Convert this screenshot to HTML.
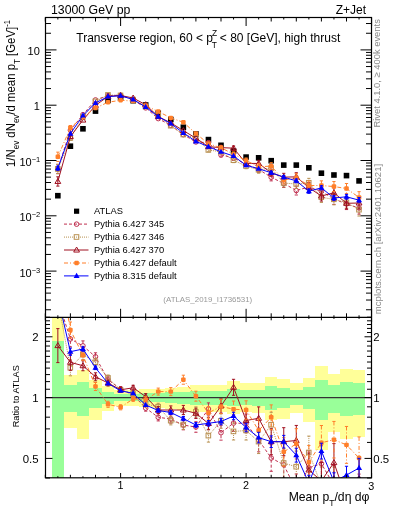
<!DOCTYPE html>
<html><head><meta charset="utf-8"><style>html,body{margin:0;padding:0;background:#fff;}svg{display:block;will-change:transform;}</style></head>
<body><svg width="393" height="512" viewBox="0 0 393 512" font-family="'Liberation Sans', sans-serif">
<rect width="393" height="512" fill="#fff"/>
<clipPath id="cr"><rect x="45.5" y="317.3" width="326.0" height="160.5"/></clipPath>
<clipPath id="cu"><rect x="45.5" y="17.5" width="326.0" height="299.8"/></clipPath>
<g clip-path="url(#cr)" shape-rendering="crispEdges">
<rect x="51.57" y="300" width="12.55" height="200.00" fill="#ffff99"/>
<rect x="51.57" y="341.2" width="12.55" height="158.80" fill="#99ff99"/>
<rect x="64.12" y="375.1761316932639" width="12.55" height="52.62" fill="#ffff99"/>
<rect x="64.12" y="385.3814694720121" width="12.55" height="26.42" fill="#99ff99"/>
<rect x="76.67" y="369.6320706727766" width="12.55" height="69.27" fill="#ffff99"/>
<rect x="76.67" y="382.3981177277017" width="12.55" height="33.60" fill="#99ff99"/>
<rect x="89.22" y="380.0257031561075" width="12.55" height="39.57" fill="#ffff99"/>
<rect x="89.22" y="388.22346356994245" width="12.55" height="19.88" fill="#99ff99"/>
<rect x="101.77" y="385.75329864055203" width="12.55" height="25.55" fill="#ffff99"/>
<rect x="101.77" y="391.8094004919475" width="12.55" height="11.99" fill="#99ff99"/>
<rect x="114.32" y="390.0178454664173" width="12.55" height="15.88" fill="#ffff99"/>
<rect x="114.32" y="393.9577894797551" width="12.55" height="7.44" fill="#99ff99"/>
<rect x="126.88" y="390.0178454664173" width="12.55" height="15.88" fill="#ffff99"/>
<rect x="126.88" y="393.8660232881099" width="12.55" height="7.63" fill="#99ff99"/>
<rect x="139.43" y="389.27388582202946" width="12.55" height="17.53" fill="#ffff99"/>
<rect x="139.43" y="393.3196093453603" width="12.55" height="8.78" fill="#99ff99"/>
<rect x="151.97" y="388.70477855071954" width="12.55" height="18.80" fill="#ffff99"/>
<rect x="151.97" y="392.9592707713187" width="12.55" height="9.54" fill="#99ff99"/>
<rect x="164.52" y="387.5124842680408" width="12.55" height="21.49" fill="#ffff99"/>
<rect x="164.52" y="392.3361218820145" width="12.55" height="10.86" fill="#99ff99"/>
<rect x="177.07" y="386.7376053690593" width="12.55" height="23.26" fill="#ffff99"/>
<rect x="177.07" y="391.63532217523664" width="12.55" height="12.36" fill="#99ff99"/>
<rect x="189.62" y="385.233768080518" width="12.55" height="26.77" fill="#ffff99"/>
<rect x="189.62" y="391.11750872739566" width="12.55" height="13.48" fill="#99ff99"/>
<rect x="202.18" y="385.233768080518" width="12.55" height="26.77" fill="#ffff99"/>
<rect x="202.18" y="391.11750872739566" width="12.55" height="13.48" fill="#99ff99"/>
<rect x="214.72" y="385.233768080518" width="12.55" height="26.77" fill="#ffff99"/>
<rect x="214.72" y="391.11750872739566" width="12.55" height="13.48" fill="#99ff99"/>
<rect x="227.28" y="381.1" width="12.55" height="32.80" fill="#ffff99"/>
<rect x="227.28" y="389.1" width="12.55" height="17.20" fill="#99ff99"/>
<rect x="239.82" y="383" width="12.55" height="29.40" fill="#ffff99"/>
<rect x="239.82" y="390" width="12.55" height="15.30" fill="#99ff99"/>
<rect x="252.37" y="383" width="12.55" height="30.00" fill="#ffff99"/>
<rect x="252.37" y="390" width="12.55" height="16.30" fill="#99ff99"/>
<rect x="264.93" y="376.7" width="12.55" height="43.30" fill="#ffff99"/>
<rect x="264.93" y="386.2" width="12.55" height="23.80" fill="#99ff99"/>
<rect x="277.48" y="379.2" width="12.55" height="40.00" fill="#ffff99"/>
<rect x="277.48" y="387.6" width="12.55" height="20.60" fill="#99ff99"/>
<rect x="290.03" y="383" width="12.55" height="30.00" fill="#ffff99"/>
<rect x="290.03" y="390" width="12.55" height="15.30" fill="#99ff99"/>
<rect x="302.58" y="378.3" width="12.55" height="43.30" fill="#ffff99"/>
<rect x="302.58" y="387.3" width="12.55" height="22.10" fill="#99ff99"/>
<rect x="315.12" y="365.6" width="12.55" height="84.00" fill="#ffff99"/>
<rect x="315.12" y="379.6" width="12.55" height="40.10" fill="#99ff99"/>
<rect x="327.68" y="373.8" width="12.55" height="58.00" fill="#ffff99"/>
<rect x="327.68" y="384.7" width="12.55" height="28.00" fill="#99ff99"/>
<rect x="340.23" y="369.4" width="12.55" height="70.00" fill="#ffff99"/>
<rect x="340.23" y="382.2" width="12.55" height="33.80" fill="#99ff99"/>
<rect x="352.78" y="370.2" width="12.55" height="66.80" fill="#ffff99"/>
<rect x="352.78" y="383" width="12.55" height="32.30" fill="#99ff99"/>
</g>
<line x1="45.5" y1="397.6" x2="371.5" y2="397.6" stroke="#333" stroke-width="1.1"/>
<g clip-path="url(#cu)">
<rect x="55.05" y="192.90" width="5.6" height="5.6" fill="#000"/>
<rect x="67.60" y="143.40" width="5.6" height="5.6" fill="#000"/>
<rect x="80.15" y="126.00" width="5.6" height="5.6" fill="#000"/>
<rect x="92.70" y="108.30" width="5.6" height="5.6" fill="#000"/>
<rect x="105.25" y="97.60" width="5.6" height="5.6" fill="#000"/>
<rect x="117.80" y="94.80" width="5.6" height="5.6" fill="#000"/>
<rect x="130.35" y="97.90" width="5.6" height="5.6" fill="#000"/>
<rect x="142.90" y="102.20" width="5.6" height="5.6" fill="#000"/>
<rect x="155.45" y="110.40" width="5.6" height="5.6" fill="#000"/>
<rect x="168.00" y="116.70" width="5.6" height="5.6" fill="#000"/>
<rect x="180.55" y="124.40" width="5.6" height="5.6" fill="#000"/>
<rect x="193.10" y="131.10" width="5.6" height="5.6" fill="#000"/>
<rect x="205.65" y="136.80" width="5.6" height="5.6" fill="#000"/>
<rect x="218.20" y="142.50" width="5.6" height="5.6" fill="#000"/>
<rect x="230.75" y="148.20" width="5.6" height="5.6" fill="#000"/>
<rect x="243.30" y="154.30" width="5.6" height="5.6" fill="#000"/>
<rect x="255.85" y="155.00" width="5.6" height="5.6" fill="#000"/>
<rect x="268.40" y="157.90" width="5.6" height="5.6" fill="#000"/>
<rect x="280.95" y="162.30" width="5.6" height="5.6" fill="#000"/>
<rect x="293.50" y="162.30" width="5.6" height="5.6" fill="#000"/>
<rect x="306.05" y="165.00" width="5.6" height="5.6" fill="#000"/>
<rect x="318.60" y="170.40" width="5.6" height="5.6" fill="#000"/>
<rect x="331.15" y="172.20" width="5.6" height="5.6" fill="#000"/>
<rect x="343.70" y="172.80" width="5.6" height="5.6" fill="#000"/>
<rect x="356.25" y="178.10" width="5.6" height="5.6" fill="#000"/>
<polyline points="57.85,169.00 70.40,130.13 82.95,114.65 95.50,99.93 108.05,95.53 120.60,95.25 133.15,99.99 145.70,107.87 158.25,118.59 170.80,125.36 183.35,134.73 195.90,141.95 208.45,142.72 221.00,154.91 233.55,157.98 246.10,164.16 258.65,169.41 271.20,177.24 283.75,183.50 296.30,190.50 308.85,187.02 321.40,191.30 333.95,199.00 346.50,204.00 359.05,208.00" fill="none" stroke="#c03050" stroke-width="1.0" stroke-dasharray="3,2"/>
<line x1="57.85" y1="164.35" x2="57.85" y2="173.65" stroke="#c03050" stroke-width="1.0" stroke-dasharray="3,2"/><line x1="56.25" y1="164.35" x2="59.45" y2="164.35" stroke="#c03050" stroke-width="1.0"/><line x1="56.25" y1="173.65" x2="59.45" y2="173.65" stroke="#c03050" stroke-width="1.0"/>
<circle cx="57.85" cy="169.00" r="2.3" fill="#fff" fill-opacity="0" stroke="#c03050" stroke-width="1.0"/>
<line x1="70.40" y1="127.94" x2="70.40" y2="132.32" stroke="#c03050" stroke-width="1.0" stroke-dasharray="3,2"/><line x1="68.80" y1="127.94" x2="72.00" y2="127.94" stroke="#c03050" stroke-width="1.0"/><line x1="68.80" y1="132.32" x2="72.00" y2="132.32" stroke="#c03050" stroke-width="1.0"/>
<circle cx="70.40" cy="130.13" r="2.3" fill="#fff" fill-opacity="0" stroke="#c03050" stroke-width="1.0"/>
<circle cx="82.95" cy="114.65" r="2.3" fill="#fff" fill-opacity="0" stroke="#c03050" stroke-width="1.0"/>
<circle cx="95.50" cy="99.93" r="2.3" fill="#fff" fill-opacity="0" stroke="#c03050" stroke-width="1.0"/>
<circle cx="108.05" cy="95.53" r="2.3" fill="#fff" fill-opacity="0" stroke="#c03050" stroke-width="1.0"/>
<circle cx="120.60" cy="95.25" r="2.3" fill="#fff" fill-opacity="0" stroke="#c03050" stroke-width="1.0"/>
<circle cx="133.15" cy="99.99" r="2.3" fill="#fff" fill-opacity="0" stroke="#c03050" stroke-width="1.0"/>
<circle cx="145.70" cy="107.87" r="2.3" fill="#fff" fill-opacity="0" stroke="#c03050" stroke-width="1.0"/>
<circle cx="158.25" cy="118.59" r="2.3" fill="#fff" fill-opacity="0" stroke="#c03050" stroke-width="1.0"/>
<circle cx="170.80" cy="125.36" r="2.3" fill="#fff" fill-opacity="0" stroke="#c03050" stroke-width="1.0"/>
<circle cx="183.35" cy="134.73" r="2.3" fill="#fff" fill-opacity="0" stroke="#c03050" stroke-width="1.0"/>
<circle cx="195.90" cy="141.95" r="2.3" fill="#fff" fill-opacity="0" stroke="#c03050" stroke-width="1.0"/>
<line x1="208.45" y1="141.05" x2="208.45" y2="144.40" stroke="#c03050" stroke-width="1.0" stroke-dasharray="3,2"/><line x1="206.85" y1="141.05" x2="210.05" y2="141.05" stroke="#c03050" stroke-width="1.0"/><line x1="206.85" y1="144.40" x2="210.05" y2="144.40" stroke="#c03050" stroke-width="1.0"/>
<circle cx="208.45" cy="142.72" r="2.3" fill="#fff" fill-opacity="0" stroke="#c03050" stroke-width="1.0"/>
<line x1="221.00" y1="152.87" x2="221.00" y2="156.94" stroke="#c03050" stroke-width="1.0" stroke-dasharray="3,2"/><line x1="219.40" y1="152.87" x2="222.60" y2="152.87" stroke="#c03050" stroke-width="1.0"/><line x1="219.40" y1="156.94" x2="222.60" y2="156.94" stroke="#c03050" stroke-width="1.0"/>
<circle cx="221.00" cy="154.91" r="2.3" fill="#fff" fill-opacity="0" stroke="#c03050" stroke-width="1.0"/>
<line x1="233.55" y1="155.69" x2="233.55" y2="160.27" stroke="#c03050" stroke-width="1.0" stroke-dasharray="3,2"/><line x1="231.95" y1="155.69" x2="235.15" y2="155.69" stroke="#c03050" stroke-width="1.0"/><line x1="231.95" y1="160.27" x2="235.15" y2="160.27" stroke="#c03050" stroke-width="1.0"/>
<circle cx="233.55" cy="157.98" r="2.3" fill="#fff" fill-opacity="0" stroke="#c03050" stroke-width="1.0"/>
<line x1="246.10" y1="161.59" x2="246.10" y2="166.74" stroke="#c03050" stroke-width="1.0" stroke-dasharray="3,2"/><line x1="244.50" y1="161.59" x2="247.70" y2="161.59" stroke="#c03050" stroke-width="1.0"/><line x1="244.50" y1="166.74" x2="247.70" y2="166.74" stroke="#c03050" stroke-width="1.0"/>
<circle cx="246.10" cy="164.16" r="2.3" fill="#fff" fill-opacity="0" stroke="#c03050" stroke-width="1.0"/>
<line x1="258.65" y1="166.17" x2="258.65" y2="172.65" stroke="#c03050" stroke-width="1.0" stroke-dasharray="3,2"/><line x1="257.05" y1="166.17" x2="260.25" y2="166.17" stroke="#c03050" stroke-width="1.0"/><line x1="257.05" y1="172.65" x2="260.25" y2="172.65" stroke="#c03050" stroke-width="1.0"/>
<circle cx="258.65" cy="169.41" r="2.3" fill="#fff" fill-opacity="0" stroke="#c03050" stroke-width="1.0"/>
<line x1="271.20" y1="173.59" x2="271.20" y2="180.88" stroke="#c03050" stroke-width="1.0" stroke-dasharray="3,2"/><line x1="269.60" y1="173.59" x2="272.80" y2="173.59" stroke="#c03050" stroke-width="1.0"/><line x1="269.60" y1="180.88" x2="272.80" y2="180.88" stroke="#c03050" stroke-width="1.0"/>
<circle cx="271.20" cy="177.24" r="2.3" fill="#fff" fill-opacity="0" stroke="#c03050" stroke-width="1.0"/>
<line x1="283.75" y1="179.51" x2="283.75" y2="187.49" stroke="#c03050" stroke-width="1.0" stroke-dasharray="3,2"/><line x1="282.15" y1="179.51" x2="285.35" y2="179.51" stroke="#c03050" stroke-width="1.0"/><line x1="282.15" y1="187.49" x2="285.35" y2="187.49" stroke="#c03050" stroke-width="1.0"/>
<circle cx="283.75" cy="183.50" r="2.3" fill="#fff" fill-opacity="0" stroke="#c03050" stroke-width="1.0"/>
<line x1="296.30" y1="186.01" x2="296.30" y2="194.99" stroke="#c03050" stroke-width="1.0" stroke-dasharray="3,2"/><line x1="294.70" y1="186.01" x2="297.90" y2="186.01" stroke="#c03050" stroke-width="1.0"/><line x1="294.70" y1="194.99" x2="297.90" y2="194.99" stroke="#c03050" stroke-width="1.0"/>
<circle cx="296.30" cy="190.50" r="2.3" fill="#fff" fill-opacity="0" stroke="#c03050" stroke-width="1.0"/>
<line x1="308.85" y1="182.39" x2="308.85" y2="191.65" stroke="#c03050" stroke-width="1.0" stroke-dasharray="3,2"/><line x1="307.25" y1="182.39" x2="310.45" y2="182.39" stroke="#c03050" stroke-width="1.0"/><line x1="307.25" y1="191.65" x2="310.45" y2="191.65" stroke="#c03050" stroke-width="1.0"/>
<circle cx="308.85" cy="187.02" r="2.3" fill="#fff" fill-opacity="0" stroke="#c03050" stroke-width="1.0"/>
<line x1="321.40" y1="186.39" x2="321.40" y2="196.20" stroke="#c03050" stroke-width="1.0" stroke-dasharray="3,2"/><line x1="319.80" y1="186.39" x2="323.00" y2="186.39" stroke="#c03050" stroke-width="1.0"/><line x1="319.80" y1="196.20" x2="323.00" y2="196.20" stroke="#c03050" stroke-width="1.0"/>
<circle cx="321.40" cy="191.30" r="2.3" fill="#fff" fill-opacity="0" stroke="#c03050" stroke-width="1.0"/>
<line x1="333.95" y1="193.59" x2="333.95" y2="204.41" stroke="#c03050" stroke-width="1.0" stroke-dasharray="3,2"/><line x1="332.35" y1="193.59" x2="335.55" y2="193.59" stroke="#c03050" stroke-width="1.0"/><line x1="332.35" y1="204.41" x2="335.55" y2="204.41" stroke="#c03050" stroke-width="1.0"/>
<circle cx="333.95" cy="199.00" r="2.3" fill="#fff" fill-opacity="0" stroke="#c03050" stroke-width="1.0"/>
<line x1="346.50" y1="198.44" x2="346.50" y2="209.56" stroke="#c03050" stroke-width="1.0" stroke-dasharray="3,2"/><line x1="344.90" y1="198.44" x2="348.10" y2="198.44" stroke="#c03050" stroke-width="1.0"/><line x1="344.90" y1="209.56" x2="348.10" y2="209.56" stroke="#c03050" stroke-width="1.0"/>
<circle cx="346.50" cy="204.00" r="2.3" fill="#fff" fill-opacity="0" stroke="#c03050" stroke-width="1.0"/>
<line x1="359.05" y1="201.84" x2="359.05" y2="214.16" stroke="#c03050" stroke-width="1.0" stroke-dasharray="3,2"/><line x1="357.45" y1="201.84" x2="360.65" y2="201.84" stroke="#c03050" stroke-width="1.0"/><line x1="357.45" y1="214.16" x2="360.65" y2="214.16" stroke="#c03050" stroke-width="1.0"/>
<circle cx="359.05" cy="208.00" r="2.3" fill="#fff" fill-opacity="0" stroke="#c03050" stroke-width="1.0"/>
<polyline points="57.85,169.00 70.40,138.04 82.95,117.00 95.50,101.44 108.05,95.03 120.60,95.52 133.15,99.71 145.70,106.75 158.25,115.72 170.80,125.82 183.35,134.62 195.90,137.84 208.45,150.03 221.00,151.71 233.55,160.28 246.10,166.11 258.65,169.87 271.20,168.15 283.75,183.03 296.30,184.04 308.85,182.86 321.40,197.30 333.95,199.40 346.50,202.50 359.05,209.80" fill="none" stroke="#b89050" stroke-width="1.0" stroke-dasharray="1,1"/>
<line x1="57.85" y1="164.35" x2="57.85" y2="173.65" stroke="#b89050" stroke-width="1.0" stroke-dasharray="1,1"/><line x1="56.25" y1="164.35" x2="59.45" y2="164.35" stroke="#b89050" stroke-width="1.0"/><line x1="56.25" y1="173.65" x2="59.45" y2="173.65" stroke="#b89050" stroke-width="1.0"/>
<rect x="55.45" y="166.60" width="4.6" height="4.6" fill="none" stroke="#b89050" stroke-width="1.0"/>
<line x1="70.40" y1="135.85" x2="70.40" y2="140.23" stroke="#b89050" stroke-width="1.0" stroke-dasharray="1,1"/><line x1="68.80" y1="135.85" x2="72.00" y2="135.85" stroke="#b89050" stroke-width="1.0"/><line x1="68.80" y1="140.23" x2="72.00" y2="140.23" stroke="#b89050" stroke-width="1.0"/>
<rect x="68.00" y="135.64" width="4.6" height="4.6" fill="none" stroke="#b89050" stroke-width="1.0"/>
<rect x="80.55" y="114.60" width="4.6" height="4.6" fill="none" stroke="#b89050" stroke-width="1.0"/>
<rect x="93.10" y="99.04" width="4.6" height="4.6" fill="none" stroke="#b89050" stroke-width="1.0"/>
<rect x="105.65" y="92.63" width="4.6" height="4.6" fill="none" stroke="#b89050" stroke-width="1.0"/>
<rect x="118.20" y="93.12" width="4.6" height="4.6" fill="none" stroke="#b89050" stroke-width="1.0"/>
<rect x="130.75" y="97.31" width="4.6" height="4.6" fill="none" stroke="#b89050" stroke-width="1.0"/>
<rect x="143.30" y="104.35" width="4.6" height="4.6" fill="none" stroke="#b89050" stroke-width="1.0"/>
<rect x="155.85" y="113.32" width="4.6" height="4.6" fill="none" stroke="#b89050" stroke-width="1.0"/>
<rect x="168.40" y="123.42" width="4.6" height="4.6" fill="none" stroke="#b89050" stroke-width="1.0"/>
<rect x="180.95" y="132.22" width="4.6" height="4.6" fill="none" stroke="#b89050" stroke-width="1.0"/>
<rect x="193.50" y="135.44" width="4.6" height="4.6" fill="none" stroke="#b89050" stroke-width="1.0"/>
<line x1="208.45" y1="148.28" x2="208.45" y2="151.78" stroke="#b89050" stroke-width="1.0" stroke-dasharray="1,1"/><line x1="206.85" y1="148.28" x2="210.05" y2="148.28" stroke="#b89050" stroke-width="1.0"/><line x1="206.85" y1="151.78" x2="210.05" y2="151.78" stroke="#b89050" stroke-width="1.0"/>
<rect x="206.05" y="147.63" width="4.6" height="4.6" fill="none" stroke="#b89050" stroke-width="1.0"/>
<line x1="221.00" y1="149.71" x2="221.00" y2="153.70" stroke="#b89050" stroke-width="1.0" stroke-dasharray="1,1"/><line x1="219.40" y1="149.71" x2="222.60" y2="149.71" stroke="#b89050" stroke-width="1.0"/><line x1="219.40" y1="153.70" x2="222.60" y2="153.70" stroke="#b89050" stroke-width="1.0"/>
<rect x="218.60" y="149.31" width="4.6" height="4.6" fill="none" stroke="#b89050" stroke-width="1.0"/>
<line x1="233.55" y1="157.96" x2="233.55" y2="162.60" stroke="#b89050" stroke-width="1.0" stroke-dasharray="1,1"/><line x1="231.95" y1="157.96" x2="235.15" y2="157.96" stroke="#b89050" stroke-width="1.0"/><line x1="231.95" y1="162.60" x2="235.15" y2="162.60" stroke="#b89050" stroke-width="1.0"/>
<rect x="231.15" y="157.88" width="4.6" height="4.6" fill="none" stroke="#b89050" stroke-width="1.0"/>
<line x1="246.10" y1="163.50" x2="246.10" y2="168.71" stroke="#b89050" stroke-width="1.0" stroke-dasharray="1,1"/><line x1="244.50" y1="163.50" x2="247.70" y2="163.50" stroke="#b89050" stroke-width="1.0"/><line x1="244.50" y1="168.71" x2="247.70" y2="168.71" stroke="#b89050" stroke-width="1.0"/>
<rect x="243.70" y="163.71" width="4.6" height="4.6" fill="none" stroke="#b89050" stroke-width="1.0"/>
<line x1="258.65" y1="166.63" x2="258.65" y2="173.12" stroke="#b89050" stroke-width="1.0" stroke-dasharray="1,1"/><line x1="257.05" y1="166.63" x2="260.25" y2="166.63" stroke="#b89050" stroke-width="1.0"/><line x1="257.05" y1="173.12" x2="260.25" y2="173.12" stroke="#b89050" stroke-width="1.0"/>
<rect x="256.25" y="167.47" width="4.6" height="4.6" fill="none" stroke="#b89050" stroke-width="1.0"/>
<line x1="271.20" y1="164.70" x2="271.20" y2="171.59" stroke="#b89050" stroke-width="1.0" stroke-dasharray="1,1"/><line x1="269.60" y1="164.70" x2="272.80" y2="164.70" stroke="#b89050" stroke-width="1.0"/><line x1="269.60" y1="171.59" x2="272.80" y2="171.59" stroke="#b89050" stroke-width="1.0"/>
<rect x="268.80" y="165.75" width="4.6" height="4.6" fill="none" stroke="#b89050" stroke-width="1.0"/>
<line x1="283.75" y1="179.05" x2="283.75" y2="187.01" stroke="#b89050" stroke-width="1.0" stroke-dasharray="1,1"/><line x1="282.15" y1="179.05" x2="285.35" y2="179.05" stroke="#b89050" stroke-width="1.0"/><line x1="282.15" y1="187.01" x2="285.35" y2="187.01" stroke="#b89050" stroke-width="1.0"/>
<rect x="281.35" y="180.63" width="4.6" height="4.6" fill="none" stroke="#b89050" stroke-width="1.0"/>
<line x1="296.30" y1="179.73" x2="296.30" y2="188.36" stroke="#b89050" stroke-width="1.0" stroke-dasharray="1,1"/><line x1="294.70" y1="179.73" x2="297.90" y2="179.73" stroke="#b89050" stroke-width="1.0"/><line x1="294.70" y1="188.36" x2="297.90" y2="188.36" stroke="#b89050" stroke-width="1.0"/>
<rect x="293.90" y="181.64" width="4.6" height="4.6" fill="none" stroke="#b89050" stroke-width="1.0"/>
<line x1="308.85" y1="178.35" x2="308.85" y2="187.37" stroke="#b89050" stroke-width="1.0" stroke-dasharray="1,1"/><line x1="307.25" y1="178.35" x2="310.45" y2="178.35" stroke="#b89050" stroke-width="1.0"/><line x1="307.25" y1="187.37" x2="310.45" y2="187.37" stroke="#b89050" stroke-width="1.0"/>
<rect x="306.45" y="180.46" width="4.6" height="4.6" fill="none" stroke="#b89050" stroke-width="1.0"/>
<line x1="321.40" y1="192.21" x2="321.40" y2="202.39" stroke="#b89050" stroke-width="1.0" stroke-dasharray="1,1"/><line x1="319.80" y1="192.21" x2="323.00" y2="192.21" stroke="#b89050" stroke-width="1.0"/><line x1="319.80" y1="202.39" x2="323.00" y2="202.39" stroke="#b89050" stroke-width="1.0"/>
<rect x="319.00" y="194.90" width="4.6" height="4.6" fill="none" stroke="#b89050" stroke-width="1.0"/>
<line x1="333.95" y1="193.98" x2="333.95" y2="204.82" stroke="#b89050" stroke-width="1.0" stroke-dasharray="1,1"/><line x1="332.35" y1="193.98" x2="335.55" y2="193.98" stroke="#b89050" stroke-width="1.0"/><line x1="332.35" y1="204.82" x2="335.55" y2="204.82" stroke="#b89050" stroke-width="1.0"/>
<rect x="331.55" y="197.00" width="4.6" height="4.6" fill="none" stroke="#b89050" stroke-width="1.0"/>
<line x1="346.50" y1="196.99" x2="346.50" y2="208.01" stroke="#b89050" stroke-width="1.0" stroke-dasharray="1,1"/><line x1="344.90" y1="196.99" x2="348.10" y2="196.99" stroke="#b89050" stroke-width="1.0"/><line x1="344.90" y1="208.01" x2="348.10" y2="208.01" stroke="#b89050" stroke-width="1.0"/>
<rect x="344.10" y="200.10" width="4.6" height="4.6" fill="none" stroke="#b89050" stroke-width="1.0"/>
<line x1="359.05" y1="203.57" x2="359.05" y2="216.03" stroke="#b89050" stroke-width="1.0" stroke-dasharray="1,1"/><line x1="357.45" y1="203.57" x2="360.65" y2="203.57" stroke="#b89050" stroke-width="1.0"/><line x1="357.45" y1="216.03" x2="360.65" y2="216.03" stroke="#b89050" stroke-width="1.0"/>
<rect x="356.65" y="207.40" width="4.6" height="4.6" fill="none" stroke="#b89050" stroke-width="1.0"/>
<polyline points="57.85,181.46 70.40,136.54 82.95,120.08 95.50,105.41 108.05,96.40 120.60,95.46 133.15,98.02 145.70,104.73 158.25,116.59 170.80,122.89 183.35,130.59 195.90,138.20 208.45,146.69 221.00,147.60 233.55,148.18 246.10,163.37 258.65,163.47 271.20,172.77 283.75,177.17 296.30,176.84 308.85,187.62 321.40,196.00 333.95,192.79 346.50,203.30 359.05,203.00" fill="none" stroke="#a01020" stroke-width="1.0"/>
<line x1="57.85" y1="176.81" x2="57.85" y2="186.12" stroke="#a01020" stroke-width="1.0"/><line x1="56.25" y1="176.81" x2="59.45" y2="176.81" stroke="#a01020" stroke-width="1.0"/><line x1="56.25" y1="186.12" x2="59.45" y2="186.12" stroke="#a01020" stroke-width="1.0"/>
<path d="M57.85,178.46L60.75,183.46L54.95,183.46Z" fill="none" stroke="#a01020" stroke-width="1.0"/>
<line x1="70.40" y1="134.35" x2="70.40" y2="138.73" stroke="#a01020" stroke-width="1.0"/><line x1="68.80" y1="134.35" x2="72.00" y2="134.35" stroke="#a01020" stroke-width="1.0"/><line x1="68.80" y1="138.73" x2="72.00" y2="138.73" stroke="#a01020" stroke-width="1.0"/>
<path d="M70.40,133.54L73.30,138.54L67.50,138.54Z" fill="none" stroke="#a01020" stroke-width="1.0"/>
<path d="M82.95,117.08L85.85,122.08L80.05,122.08Z" fill="none" stroke="#a01020" stroke-width="1.0"/>
<path d="M95.50,102.41L98.40,107.41L92.60,107.41Z" fill="none" stroke="#a01020" stroke-width="1.0"/>
<path d="M108.05,93.40L110.95,98.40L105.15,98.40Z" fill="none" stroke="#a01020" stroke-width="1.0"/>
<path d="M120.60,92.46L123.50,97.46L117.70,97.46Z" fill="none" stroke="#a01020" stroke-width="1.0"/>
<path d="M133.15,95.02L136.05,100.02L130.25,100.02Z" fill="none" stroke="#a01020" stroke-width="1.0"/>
<path d="M145.70,101.73L148.60,106.73L142.80,106.73Z" fill="none" stroke="#a01020" stroke-width="1.0"/>
<path d="M158.25,113.59L161.15,118.59L155.35,118.59Z" fill="none" stroke="#a01020" stroke-width="1.0"/>
<path d="M170.80,119.89L173.70,124.89L167.90,124.89Z" fill="none" stroke="#a01020" stroke-width="1.0"/>
<path d="M183.35,127.59L186.25,132.59L180.45,132.59Z" fill="none" stroke="#a01020" stroke-width="1.0"/>
<path d="M195.90,135.20L198.80,140.20L193.00,140.20Z" fill="none" stroke="#a01020" stroke-width="1.0"/>
<line x1="208.45" y1="144.97" x2="208.45" y2="148.41" stroke="#a01020" stroke-width="1.0"/><line x1="206.85" y1="144.97" x2="210.05" y2="144.97" stroke="#a01020" stroke-width="1.0"/><line x1="206.85" y1="148.41" x2="210.05" y2="148.41" stroke="#a01020" stroke-width="1.0"/>
<path d="M208.45,143.69L211.35,148.69L205.55,148.69Z" fill="none" stroke="#a01020" stroke-width="1.0"/>
<line x1="221.00" y1="145.66" x2="221.00" y2="149.54" stroke="#a01020" stroke-width="1.0"/><line x1="219.40" y1="145.66" x2="222.60" y2="145.66" stroke="#a01020" stroke-width="1.0"/><line x1="219.40" y1="149.54" x2="222.60" y2="149.54" stroke="#a01020" stroke-width="1.0"/>
<path d="M221.00,144.60L223.90,149.60L218.10,149.60Z" fill="none" stroke="#a01020" stroke-width="1.0"/>
<line x1="233.55" y1="145.99" x2="233.55" y2="150.37" stroke="#a01020" stroke-width="1.0"/><line x1="231.95" y1="145.99" x2="235.15" y2="145.99" stroke="#a01020" stroke-width="1.0"/><line x1="231.95" y1="150.37" x2="235.15" y2="150.37" stroke="#a01020" stroke-width="1.0"/>
<path d="M233.55,145.18L236.45,150.18L230.65,150.18Z" fill="none" stroke="#a01020" stroke-width="1.0"/>
<line x1="246.10" y1="160.81" x2="246.10" y2="165.93" stroke="#a01020" stroke-width="1.0"/><line x1="244.50" y1="160.81" x2="247.70" y2="160.81" stroke="#a01020" stroke-width="1.0"/><line x1="244.50" y1="165.93" x2="247.70" y2="165.93" stroke="#a01020" stroke-width="1.0"/>
<path d="M246.10,160.37L249.00,165.37L243.20,165.37Z" fill="none" stroke="#a01020" stroke-width="1.0"/>
<line x1="258.65" y1="160.35" x2="258.65" y2="166.59" stroke="#a01020" stroke-width="1.0"/><line x1="257.05" y1="160.35" x2="260.25" y2="160.35" stroke="#a01020" stroke-width="1.0"/><line x1="257.05" y1="166.59" x2="260.25" y2="166.59" stroke="#a01020" stroke-width="1.0"/>
<path d="M258.65,160.47L261.55,165.47L255.75,165.47Z" fill="none" stroke="#a01020" stroke-width="1.0"/>
<line x1="271.20" y1="169.23" x2="271.20" y2="176.32" stroke="#a01020" stroke-width="1.0"/><line x1="269.60" y1="169.23" x2="272.80" y2="169.23" stroke="#a01020" stroke-width="1.0"/><line x1="269.60" y1="176.32" x2="272.80" y2="176.32" stroke="#a01020" stroke-width="1.0"/>
<path d="M271.20,169.77L274.10,174.77L268.30,174.77Z" fill="none" stroke="#a01020" stroke-width="1.0"/>
<line x1="283.75" y1="173.34" x2="283.75" y2="181.01" stroke="#a01020" stroke-width="1.0"/><line x1="282.15" y1="173.34" x2="285.35" y2="173.34" stroke="#a01020" stroke-width="1.0"/><line x1="282.15" y1="181.01" x2="285.35" y2="181.01" stroke="#a01020" stroke-width="1.0"/>
<path d="M283.75,174.17L286.65,179.17L280.85,179.17Z" fill="none" stroke="#a01020" stroke-width="1.0"/>
<line x1="296.30" y1="172.72" x2="296.30" y2="180.97" stroke="#a01020" stroke-width="1.0"/><line x1="294.70" y1="172.72" x2="297.90" y2="172.72" stroke="#a01020" stroke-width="1.0"/><line x1="294.70" y1="180.97" x2="297.90" y2="180.97" stroke="#a01020" stroke-width="1.0"/>
<path d="M296.30,173.84L299.20,178.84L293.40,178.84Z" fill="none" stroke="#a01020" stroke-width="1.0"/>
<line x1="308.85" y1="182.97" x2="308.85" y2="192.27" stroke="#a01020" stroke-width="1.0"/><line x1="307.25" y1="182.97" x2="310.45" y2="182.97" stroke="#a01020" stroke-width="1.0"/><line x1="307.25" y1="192.27" x2="310.45" y2="192.27" stroke="#a01020" stroke-width="1.0"/>
<path d="M308.85,184.62L311.75,189.62L305.95,189.62Z" fill="none" stroke="#a01020" stroke-width="1.0"/>
<line x1="321.40" y1="190.95" x2="321.40" y2="201.05" stroke="#a01020" stroke-width="1.0"/><line x1="319.80" y1="190.95" x2="323.00" y2="190.95" stroke="#a01020" stroke-width="1.0"/><line x1="319.80" y1="201.05" x2="323.00" y2="201.05" stroke="#a01020" stroke-width="1.0"/>
<path d="M321.40,193.00L324.30,198.00L318.50,198.00Z" fill="none" stroke="#a01020" stroke-width="1.0"/>
<line x1="333.95" y1="187.59" x2="333.95" y2="198.00" stroke="#a01020" stroke-width="1.0"/><line x1="332.35" y1="187.59" x2="335.55" y2="187.59" stroke="#a01020" stroke-width="1.0"/><line x1="332.35" y1="198.00" x2="335.55" y2="198.00" stroke="#a01020" stroke-width="1.0"/>
<path d="M333.95,189.79L336.85,194.79L331.05,194.79Z" fill="none" stroke="#a01020" stroke-width="1.0"/>
<line x1="346.50" y1="197.77" x2="346.50" y2="208.83" stroke="#a01020" stroke-width="1.0"/><line x1="344.90" y1="197.77" x2="348.10" y2="197.77" stroke="#a01020" stroke-width="1.0"/><line x1="344.90" y1="208.83" x2="348.10" y2="208.83" stroke="#a01020" stroke-width="1.0"/>
<path d="M346.50,200.30L349.40,205.30L343.60,205.30Z" fill="none" stroke="#a01020" stroke-width="1.0"/>
<line x1="359.05" y1="197.03" x2="359.05" y2="208.97" stroke="#a01020" stroke-width="1.0"/><line x1="357.45" y1="197.03" x2="360.65" y2="197.03" stroke="#a01020" stroke-width="1.0"/><line x1="357.45" y1="208.97" x2="360.65" y2="208.97" stroke="#a01020" stroke-width="1.0"/>
<path d="M359.05,200.00L361.95,205.00L356.15,205.00Z" fill="none" stroke="#a01020" stroke-width="1.0"/>
<polyline points="57.85,156.80 70.40,127.69 82.95,117.22 95.50,108.06 108.05,102.23 120.60,100.26 133.15,101.06 145.70,105.57 158.25,111.56 170.80,117.86 183.35,122.30 195.90,133.52 208.45,143.76 221.00,147.74 233.55,154.18 246.10,160.49 258.65,166.81 271.20,166.09 283.75,179.97 296.30,177.75 308.85,185.49 321.40,185.57 333.95,186.53 346.50,188.55 359.05,197.44" fill="none" stroke="#ff7f2a" stroke-width="1.0" stroke-dasharray="4,2,1,2"/>
<line x1="57.85" y1="152.15" x2="57.85" y2="161.45" stroke="#ff7f2a" stroke-width="1.0" stroke-dasharray="4,2,1,2"/><line x1="56.25" y1="152.15" x2="59.45" y2="152.15" stroke="#ff7f2a" stroke-width="1.0"/><line x1="56.25" y1="161.45" x2="59.45" y2="161.45" stroke="#ff7f2a" stroke-width="1.0"/>
<rect x="55.55" y="154.60" width="4.6" height="4.4" rx="1.1" fill="#ff7f2a"/>
<line x1="70.40" y1="125.50" x2="70.40" y2="129.88" stroke="#ff7f2a" stroke-width="1.0" stroke-dasharray="4,2,1,2"/><line x1="68.80" y1="125.50" x2="72.00" y2="125.50" stroke="#ff7f2a" stroke-width="1.0"/><line x1="68.80" y1="129.88" x2="72.00" y2="129.88" stroke="#ff7f2a" stroke-width="1.0"/>
<rect x="68.10" y="125.49" width="4.6" height="4.4" rx="1.1" fill="#ff7f2a"/>
<rect x="80.65" y="115.02" width="4.6" height="4.4" rx="1.1" fill="#ff7f2a"/>
<rect x="93.20" y="105.86" width="4.6" height="4.4" rx="1.1" fill="#ff7f2a"/>
<rect x="105.75" y="100.03" width="4.6" height="4.4" rx="1.1" fill="#ff7f2a"/>
<rect x="118.30" y="98.06" width="4.6" height="4.4" rx="1.1" fill="#ff7f2a"/>
<rect x="130.85" y="98.86" width="4.6" height="4.4" rx="1.1" fill="#ff7f2a"/>
<rect x="143.40" y="103.37" width="4.6" height="4.4" rx="1.1" fill="#ff7f2a"/>
<rect x="155.95" y="109.36" width="4.6" height="4.4" rx="1.1" fill="#ff7f2a"/>
<rect x="168.50" y="115.66" width="4.6" height="4.4" rx="1.1" fill="#ff7f2a"/>
<rect x="181.05" y="120.10" width="4.6" height="4.4" rx="1.1" fill="#ff7f2a"/>
<rect x="193.60" y="131.32" width="4.6" height="4.4" rx="1.1" fill="#ff7f2a"/>
<line x1="208.45" y1="142.08" x2="208.45" y2="145.45" stroke="#ff7f2a" stroke-width="1.0" stroke-dasharray="4,2,1,2"/><line x1="206.85" y1="142.08" x2="210.05" y2="142.08" stroke="#ff7f2a" stroke-width="1.0"/><line x1="206.85" y1="145.45" x2="210.05" y2="145.45" stroke="#ff7f2a" stroke-width="1.0"/>
<rect x="206.15" y="141.56" width="4.6" height="4.4" rx="1.1" fill="#ff7f2a"/>
<line x1="221.00" y1="145.79" x2="221.00" y2="149.68" stroke="#ff7f2a" stroke-width="1.0" stroke-dasharray="4,2,1,2"/><line x1="219.40" y1="145.79" x2="222.60" y2="145.79" stroke="#ff7f2a" stroke-width="1.0"/><line x1="219.40" y1="149.68" x2="222.60" y2="149.68" stroke="#ff7f2a" stroke-width="1.0"/>
<rect x="218.70" y="145.54" width="4.6" height="4.4" rx="1.1" fill="#ff7f2a"/>
<line x1="233.55" y1="151.94" x2="233.55" y2="156.41" stroke="#ff7f2a" stroke-width="1.0" stroke-dasharray="4,2,1,2"/><line x1="231.95" y1="151.94" x2="235.15" y2="151.94" stroke="#ff7f2a" stroke-width="1.0"/><line x1="231.95" y1="156.41" x2="235.15" y2="156.41" stroke="#ff7f2a" stroke-width="1.0"/>
<rect x="231.25" y="151.98" width="4.6" height="4.4" rx="1.1" fill="#ff7f2a"/>
<line x1="246.10" y1="157.98" x2="246.10" y2="163.01" stroke="#ff7f2a" stroke-width="1.0" stroke-dasharray="4,2,1,2"/><line x1="244.50" y1="157.98" x2="247.70" y2="157.98" stroke="#ff7f2a" stroke-width="1.0"/><line x1="244.50" y1="163.01" x2="247.70" y2="163.01" stroke="#ff7f2a" stroke-width="1.0"/>
<rect x="243.80" y="158.29" width="4.6" height="4.4" rx="1.1" fill="#ff7f2a"/>
<line x1="258.65" y1="163.62" x2="258.65" y2="169.99" stroke="#ff7f2a" stroke-width="1.0" stroke-dasharray="4,2,1,2"/><line x1="257.05" y1="163.62" x2="260.25" y2="163.62" stroke="#ff7f2a" stroke-width="1.0"/><line x1="257.05" y1="169.99" x2="260.25" y2="169.99" stroke="#ff7f2a" stroke-width="1.0"/>
<rect x="256.35" y="164.61" width="4.6" height="4.4" rx="1.1" fill="#ff7f2a"/>
<line x1="271.20" y1="162.70" x2="271.20" y2="169.49" stroke="#ff7f2a" stroke-width="1.0" stroke-dasharray="4,2,1,2"/><line x1="269.60" y1="162.70" x2="272.80" y2="162.70" stroke="#ff7f2a" stroke-width="1.0"/><line x1="269.60" y1="169.49" x2="272.80" y2="169.49" stroke="#ff7f2a" stroke-width="1.0"/>
<rect x="268.90" y="163.89" width="4.6" height="4.4" rx="1.1" fill="#ff7f2a"/>
<line x1="283.75" y1="176.06" x2="283.75" y2="183.87" stroke="#ff7f2a" stroke-width="1.0" stroke-dasharray="4,2,1,2"/><line x1="282.15" y1="176.06" x2="285.35" y2="176.06" stroke="#ff7f2a" stroke-width="1.0"/><line x1="282.15" y1="183.87" x2="285.35" y2="183.87" stroke="#ff7f2a" stroke-width="1.0"/>
<rect x="281.45" y="177.77" width="4.6" height="4.4" rx="1.1" fill="#ff7f2a"/>
<line x1="296.30" y1="173.60" x2="296.30" y2="181.90" stroke="#ff7f2a" stroke-width="1.0" stroke-dasharray="4,2,1,2"/><line x1="294.70" y1="173.60" x2="297.90" y2="173.60" stroke="#ff7f2a" stroke-width="1.0"/><line x1="294.70" y1="181.90" x2="297.90" y2="181.90" stroke="#ff7f2a" stroke-width="1.0"/>
<rect x="294.00" y="175.55" width="4.6" height="4.4" rx="1.1" fill="#ff7f2a"/>
<line x1="308.85" y1="180.90" x2="308.85" y2="190.07" stroke="#ff7f2a" stroke-width="1.0" stroke-dasharray="4,2,1,2"/><line x1="307.25" y1="180.90" x2="310.45" y2="180.90" stroke="#ff7f2a" stroke-width="1.0"/><line x1="307.25" y1="190.07" x2="310.45" y2="190.07" stroke="#ff7f2a" stroke-width="1.0"/>
<rect x="306.55" y="183.29" width="4.6" height="4.4" rx="1.1" fill="#ff7f2a"/>
<line x1="321.40" y1="180.84" x2="321.40" y2="190.31" stroke="#ff7f2a" stroke-width="1.0" stroke-dasharray="4,2,1,2"/><line x1="319.80" y1="180.84" x2="323.00" y2="180.84" stroke="#ff7f2a" stroke-width="1.0"/><line x1="319.80" y1="190.31" x2="323.00" y2="190.31" stroke="#ff7f2a" stroke-width="1.0"/>
<rect x="319.10" y="183.37" width="4.6" height="4.4" rx="1.1" fill="#ff7f2a"/>
<line x1="333.95" y1="181.52" x2="333.95" y2="191.53" stroke="#ff7f2a" stroke-width="1.0" stroke-dasharray="4,2,1,2"/><line x1="332.35" y1="181.52" x2="335.55" y2="181.52" stroke="#ff7f2a" stroke-width="1.0"/><line x1="332.35" y1="191.53" x2="335.55" y2="191.53" stroke="#ff7f2a" stroke-width="1.0"/>
<rect x="331.65" y="184.33" width="4.6" height="4.4" rx="1.1" fill="#ff7f2a"/>
<line x1="346.50" y1="183.50" x2="346.50" y2="193.59" stroke="#ff7f2a" stroke-width="1.0" stroke-dasharray="4,2,1,2"/><line x1="344.90" y1="183.50" x2="348.10" y2="183.50" stroke="#ff7f2a" stroke-width="1.0"/><line x1="344.90" y1="193.59" x2="348.10" y2="193.59" stroke="#ff7f2a" stroke-width="1.0"/>
<rect x="344.20" y="186.35" width="4.6" height="4.4" rx="1.1" fill="#ff7f2a"/>
<line x1="359.05" y1="191.67" x2="359.05" y2="203.20" stroke="#ff7f2a" stroke-width="1.0" stroke-dasharray="4,2,1,2"/><line x1="357.45" y1="191.67" x2="360.65" y2="191.67" stroke="#ff7f2a" stroke-width="1.0"/><line x1="357.45" y1="203.20" x2="360.65" y2="203.20" stroke="#ff7f2a" stroke-width="1.0"/>
<rect x="356.75" y="195.24" width="4.6" height="4.4" rx="1.1" fill="#ff7f2a"/>
<polyline points="57.85,168.20 70.40,133.63 82.95,115.50 95.50,102.94 108.05,96.54 120.60,95.74 133.15,99.52 145.70,107.03 158.25,116.73 170.80,123.58 183.35,132.95 195.90,141.40 208.45,146.64 221.00,151.84 233.55,156.04 246.10,165.29 258.65,168.75 271.20,172.77 283.75,177.17 296.30,180.87 308.85,191.20 321.40,187.85 333.95,198.00 346.50,196.79 359.05,200.17" fill="none" stroke="#0000ff" stroke-width="1.0"/>
<line x1="57.85" y1="166.11" x2="57.85" y2="170.29" stroke="#0000ff" stroke-width="1.0"/><line x1="56.25" y1="166.11" x2="59.45" y2="166.11" stroke="#0000ff" stroke-width="1.0"/><line x1="56.25" y1="170.29" x2="59.45" y2="170.29" stroke="#0000ff" stroke-width="1.0"/>
<path d="M57.85,165.00L60.85,170.20L54.85,170.20Z" fill="#0000ff"/>
<path d="M70.40,130.43L73.40,135.63L67.40,135.63Z" fill="#0000ff"/>
<path d="M82.95,112.30L85.95,117.50L79.95,117.50Z" fill="#0000ff"/>
<path d="M95.50,99.74L98.50,104.94L92.50,104.94Z" fill="#0000ff"/>
<path d="M108.05,93.34L111.05,98.54L105.05,98.54Z" fill="#0000ff"/>
<path d="M120.60,92.54L123.60,97.74L117.60,97.74Z" fill="#0000ff"/>
<path d="M133.15,96.32L136.15,101.52L130.15,101.52Z" fill="#0000ff"/>
<path d="M145.70,103.83L148.70,109.03L142.70,109.03Z" fill="#0000ff"/>
<path d="M158.25,113.53L161.25,118.73L155.25,118.73Z" fill="#0000ff"/>
<path d="M170.80,120.38L173.80,125.58L167.80,125.58Z" fill="#0000ff"/>
<path d="M183.35,129.75L186.35,134.95L180.35,134.95Z" fill="#0000ff"/>
<path d="M195.90,138.20L198.90,143.40L192.90,143.40Z" fill="#0000ff"/>
<path d="M208.45,143.44L211.45,148.64L205.45,148.64Z" fill="#0000ff"/>
<path d="M221.00,148.64L224.00,153.84L218.00,153.84Z" fill="#0000ff"/>
<path d="M233.55,152.84L236.55,158.04L230.55,158.04Z" fill="#0000ff"/>
<path d="M246.10,162.09L249.10,167.29L243.10,167.29Z" fill="#0000ff"/>
<path d="M258.65,165.55L261.65,170.75L255.65,170.75Z" fill="#0000ff"/>
<line x1="271.20" y1="171.18" x2="271.20" y2="174.37" stroke="#0000ff" stroke-width="1.0"/><line x1="269.60" y1="171.18" x2="272.80" y2="171.18" stroke="#0000ff" stroke-width="1.0"/><line x1="269.60" y1="174.37" x2="272.80" y2="174.37" stroke="#0000ff" stroke-width="1.0"/>
<path d="M271.20,169.57L274.20,174.77L268.20,174.77Z" fill="#0000ff"/>
<line x1="283.75" y1="175.45" x2="283.75" y2="178.90" stroke="#0000ff" stroke-width="1.0"/><line x1="282.15" y1="175.45" x2="285.35" y2="175.45" stroke="#0000ff" stroke-width="1.0"/><line x1="282.15" y1="178.90" x2="285.35" y2="178.90" stroke="#0000ff" stroke-width="1.0"/>
<path d="M283.75,173.97L286.75,179.17L280.75,179.17Z" fill="#0000ff"/>
<line x1="296.30" y1="178.97" x2="296.30" y2="182.77" stroke="#0000ff" stroke-width="1.0"/><line x1="294.70" y1="178.97" x2="297.90" y2="178.97" stroke="#0000ff" stroke-width="1.0"/><line x1="294.70" y1="182.77" x2="297.90" y2="182.77" stroke="#0000ff" stroke-width="1.0"/>
<path d="M296.30,177.67L299.30,182.87L293.30,182.87Z" fill="#0000ff"/>
<line x1="308.85" y1="189.06" x2="308.85" y2="193.34" stroke="#0000ff" stroke-width="1.0"/><line x1="307.25" y1="189.06" x2="310.45" y2="189.06" stroke="#0000ff" stroke-width="1.0"/><line x1="307.25" y1="193.34" x2="310.45" y2="193.34" stroke="#0000ff" stroke-width="1.0"/>
<path d="M308.85,188.00L311.85,193.20L305.85,193.20Z" fill="#0000ff"/>
<line x1="321.40" y1="185.69" x2="321.40" y2="190.01" stroke="#0000ff" stroke-width="1.0"/><line x1="319.80" y1="185.69" x2="323.00" y2="185.69" stroke="#0000ff" stroke-width="1.0"/><line x1="319.80" y1="190.01" x2="323.00" y2="190.01" stroke="#0000ff" stroke-width="1.0"/>
<path d="M321.40,184.65L324.40,189.85L318.40,189.85Z" fill="#0000ff"/>
<line x1="333.95" y1="195.58" x2="333.95" y2="200.42" stroke="#0000ff" stroke-width="1.0"/><line x1="332.35" y1="195.58" x2="335.55" y2="195.58" stroke="#0000ff" stroke-width="1.0"/><line x1="332.35" y1="200.42" x2="335.55" y2="200.42" stroke="#0000ff" stroke-width="1.0"/>
<path d="M333.95,194.80L336.95,200.00L330.95,200.00Z" fill="#0000ff"/>
<line x1="346.50" y1="194.40" x2="346.50" y2="199.18" stroke="#0000ff" stroke-width="1.0"/><line x1="344.90" y1="194.40" x2="348.10" y2="194.40" stroke="#0000ff" stroke-width="1.0"/><line x1="344.90" y1="199.18" x2="348.10" y2="199.18" stroke="#0000ff" stroke-width="1.0"/>
<path d="M346.50,193.59L349.50,198.79L343.50,198.79Z" fill="#0000ff"/>
<line x1="359.05" y1="197.53" x2="359.05" y2="202.81" stroke="#0000ff" stroke-width="1.0"/><line x1="357.45" y1="197.53" x2="360.65" y2="197.53" stroke="#0000ff" stroke-width="1.0"/><line x1="357.45" y1="202.81" x2="360.65" y2="202.81" stroke="#0000ff" stroke-width="1.0"/>
<path d="M359.05,196.97L362.05,202.17L356.05,202.17Z" fill="#0000ff"/>
</g>
<g clip-path="url(#cr)">
<polyline points="57.85,300.07 70.40,338.90 82.95,345.90 95.50,356.80 108.05,379.80 120.60,389.00 133.15,395.00 145.70,408.10 158.25,417.30 170.80,419.00 183.35,425.10 195.90,427.00 208.45,409.00 221.00,432.70 233.55,423.10 246.10,423.40 258.65,440.00 271.20,458.00 283.75,464.81 296.30,490.38 308.85,467.80 321.40,463.70 333.95,485.27 346.50,501.34 359.05,496.59" fill="none" stroke="#c03050" stroke-width="1.0" stroke-dasharray="3,2"/>
<line x1="57.85" y1="283.07" x2="57.85" y2="317.07" stroke="#c03050" stroke-width="1.0" stroke-dasharray="3,2"/><line x1="56.25" y1="283.07" x2="59.45" y2="283.07" stroke="#c03050" stroke-width="1.0"/><line x1="56.25" y1="317.07" x2="59.45" y2="317.07" stroke="#c03050" stroke-width="1.0"/>
<circle cx="57.85" cy="300.07" r="2.3" fill="#fff" fill-opacity="0" stroke="#c03050" stroke-width="1.0"/>
<line x1="70.40" y1="330.90" x2="70.40" y2="346.90" stroke="#c03050" stroke-width="1.0" stroke-dasharray="3,2"/><line x1="68.80" y1="330.90" x2="72.00" y2="330.90" stroke="#c03050" stroke-width="1.0"/><line x1="68.80" y1="346.90" x2="72.00" y2="346.90" stroke="#c03050" stroke-width="1.0"/>
<circle cx="70.40" cy="338.90" r="2.3" fill="#fff" fill-opacity="0" stroke="#c03050" stroke-width="1.0"/>
<line x1="82.95" y1="340.90" x2="82.95" y2="350.90" stroke="#c03050" stroke-width="1.0" stroke-dasharray="3,2"/><line x1="81.35" y1="340.90" x2="84.55" y2="340.90" stroke="#c03050" stroke-width="1.0"/><line x1="81.35" y1="350.90" x2="84.55" y2="350.90" stroke="#c03050" stroke-width="1.0"/>
<circle cx="82.95" cy="345.90" r="2.3" fill="#fff" fill-opacity="0" stroke="#c03050" stroke-width="1.0"/>
<line x1="95.50" y1="352.80" x2="95.50" y2="360.80" stroke="#c03050" stroke-width="1.0" stroke-dasharray="3,2"/><line x1="93.90" y1="352.80" x2="97.10" y2="352.80" stroke="#c03050" stroke-width="1.0"/><line x1="93.90" y1="360.80" x2="97.10" y2="360.80" stroke="#c03050" stroke-width="1.0"/>
<circle cx="95.50" cy="356.80" r="2.3" fill="#fff" fill-opacity="0" stroke="#c03050" stroke-width="1.0"/>
<line x1="108.05" y1="376.80" x2="108.05" y2="382.80" stroke="#c03050" stroke-width="1.0" stroke-dasharray="3,2"/><line x1="106.45" y1="376.80" x2="109.65" y2="376.80" stroke="#c03050" stroke-width="1.0"/><line x1="106.45" y1="382.80" x2="109.65" y2="382.80" stroke="#c03050" stroke-width="1.0"/>
<circle cx="108.05" cy="379.80" r="2.3" fill="#fff" fill-opacity="0" stroke="#c03050" stroke-width="1.0"/>
<line x1="120.60" y1="386.50" x2="120.60" y2="391.50" stroke="#c03050" stroke-width="1.0" stroke-dasharray="3,2"/><line x1="119.00" y1="386.50" x2="122.20" y2="386.50" stroke="#c03050" stroke-width="1.0"/><line x1="119.00" y1="391.50" x2="122.20" y2="391.50" stroke="#c03050" stroke-width="1.0"/>
<circle cx="120.60" cy="389.00" r="2.3" fill="#fff" fill-opacity="0" stroke="#c03050" stroke-width="1.0"/>
<line x1="133.15" y1="392.50" x2="133.15" y2="397.50" stroke="#c03050" stroke-width="1.0" stroke-dasharray="3,2"/><line x1="131.55" y1="392.50" x2="134.75" y2="392.50" stroke="#c03050" stroke-width="1.0"/><line x1="131.55" y1="397.50" x2="134.75" y2="397.50" stroke="#c03050" stroke-width="1.0"/>
<circle cx="133.15" cy="395.00" r="2.3" fill="#fff" fill-opacity="0" stroke="#c03050" stroke-width="1.0"/>
<line x1="145.70" y1="405.05" x2="145.70" y2="411.15" stroke="#c03050" stroke-width="1.0" stroke-dasharray="3,2"/><line x1="144.10" y1="405.05" x2="147.30" y2="405.05" stroke="#c03050" stroke-width="1.0"/><line x1="144.10" y1="411.15" x2="147.30" y2="411.15" stroke="#c03050" stroke-width="1.0"/>
<circle cx="145.70" cy="408.10" r="2.3" fill="#fff" fill-opacity="0" stroke="#c03050" stroke-width="1.0"/>
<line x1="158.25" y1="413.68" x2="158.25" y2="420.92" stroke="#c03050" stroke-width="1.0" stroke-dasharray="3,2"/><line x1="156.65" y1="413.68" x2="159.85" y2="413.68" stroke="#c03050" stroke-width="1.0"/><line x1="156.65" y1="420.92" x2="159.85" y2="420.92" stroke="#c03050" stroke-width="1.0"/>
<circle cx="158.25" cy="417.30" r="2.3" fill="#fff" fill-opacity="0" stroke="#c03050" stroke-width="1.0"/>
<line x1="170.80" y1="414.85" x2="170.80" y2="423.15" stroke="#c03050" stroke-width="1.0" stroke-dasharray="3,2"/><line x1="169.20" y1="414.85" x2="172.40" y2="414.85" stroke="#c03050" stroke-width="1.0"/><line x1="169.20" y1="423.15" x2="172.40" y2="423.15" stroke="#c03050" stroke-width="1.0"/>
<circle cx="170.80" cy="419.00" r="2.3" fill="#fff" fill-opacity="0" stroke="#c03050" stroke-width="1.0"/>
<line x1="183.35" y1="420.38" x2="183.35" y2="429.82" stroke="#c03050" stroke-width="1.0" stroke-dasharray="3,2"/><line x1="181.75" y1="420.38" x2="184.95" y2="420.38" stroke="#c03050" stroke-width="1.0"/><line x1="181.75" y1="429.82" x2="184.95" y2="429.82" stroke="#c03050" stroke-width="1.0"/>
<circle cx="183.35" cy="425.10" r="2.3" fill="#fff" fill-opacity="0" stroke="#c03050" stroke-width="1.0"/>
<line x1="195.90" y1="421.74" x2="195.90" y2="432.26" stroke="#c03050" stroke-width="1.0" stroke-dasharray="3,2"/><line x1="194.30" y1="421.74" x2="197.50" y2="421.74" stroke="#c03050" stroke-width="1.0"/><line x1="194.30" y1="432.26" x2="197.50" y2="432.26" stroke="#c03050" stroke-width="1.0"/>
<circle cx="195.90" cy="427.00" r="2.3" fill="#fff" fill-opacity="0" stroke="#c03050" stroke-width="1.0"/>
<line x1="208.45" y1="402.88" x2="208.45" y2="415.12" stroke="#c03050" stroke-width="1.0" stroke-dasharray="3,2"/><line x1="206.85" y1="402.88" x2="210.05" y2="402.88" stroke="#c03050" stroke-width="1.0"/><line x1="206.85" y1="415.12" x2="210.05" y2="415.12" stroke="#c03050" stroke-width="1.0"/>
<circle cx="208.45" cy="409.00" r="2.3" fill="#fff" fill-opacity="0" stroke="#c03050" stroke-width="1.0"/>
<line x1="221.00" y1="425.27" x2="221.00" y2="440.13" stroke="#c03050" stroke-width="1.0" stroke-dasharray="3,2"/><line x1="219.40" y1="425.27" x2="222.60" y2="425.27" stroke="#c03050" stroke-width="1.0"/><line x1="219.40" y1="440.13" x2="222.60" y2="440.13" stroke="#c03050" stroke-width="1.0"/>
<circle cx="221.00" cy="432.70" r="2.3" fill="#fff" fill-opacity="0" stroke="#c03050" stroke-width="1.0"/>
<line x1="233.55" y1="414.74" x2="233.55" y2="431.46" stroke="#c03050" stroke-width="1.0" stroke-dasharray="3,2"/><line x1="231.95" y1="414.74" x2="235.15" y2="414.74" stroke="#c03050" stroke-width="1.0"/><line x1="231.95" y1="431.46" x2="235.15" y2="431.46" stroke="#c03050" stroke-width="1.0"/>
<circle cx="233.55" cy="423.10" r="2.3" fill="#fff" fill-opacity="0" stroke="#c03050" stroke-width="1.0"/>
<line x1="246.10" y1="413.99" x2="246.10" y2="432.81" stroke="#c03050" stroke-width="1.0" stroke-dasharray="3,2"/><line x1="244.50" y1="413.99" x2="247.70" y2="413.99" stroke="#c03050" stroke-width="1.0"/><line x1="244.50" y1="432.81" x2="247.70" y2="432.81" stroke="#c03050" stroke-width="1.0"/>
<circle cx="246.10" cy="423.40" r="2.3" fill="#fff" fill-opacity="0" stroke="#c03050" stroke-width="1.0"/>
<line x1="258.65" y1="428.17" x2="258.65" y2="451.83" stroke="#c03050" stroke-width="1.0" stroke-dasharray="3,2"/><line x1="257.05" y1="428.17" x2="260.25" y2="428.17" stroke="#c03050" stroke-width="1.0"/><line x1="257.05" y1="451.83" x2="260.25" y2="451.83" stroke="#c03050" stroke-width="1.0"/>
<circle cx="258.65" cy="440.00" r="2.3" fill="#fff" fill-opacity="0" stroke="#c03050" stroke-width="1.0"/>
<line x1="271.20" y1="444.69" x2="271.20" y2="471.31" stroke="#c03050" stroke-width="1.0" stroke-dasharray="3,2"/><line x1="269.60" y1="444.69" x2="272.80" y2="444.69" stroke="#c03050" stroke-width="1.0"/><line x1="269.60" y1="471.31" x2="272.80" y2="471.31" stroke="#c03050" stroke-width="1.0"/>
<circle cx="271.20" cy="458.00" r="2.3" fill="#fff" fill-opacity="0" stroke="#c03050" stroke-width="1.0"/>
<line x1="283.75" y1="450.23" x2="283.75" y2="479.39" stroke="#c03050" stroke-width="1.0" stroke-dasharray="3,2"/><line x1="282.15" y1="450.23" x2="285.35" y2="450.23" stroke="#c03050" stroke-width="1.0"/><line x1="282.15" y1="479.39" x2="285.35" y2="479.39" stroke="#c03050" stroke-width="1.0"/>
<circle cx="283.75" cy="464.81" r="2.3" fill="#fff" fill-opacity="0" stroke="#c03050" stroke-width="1.0"/>
<line x1="296.30" y1="473.97" x2="296.30" y2="506.79" stroke="#c03050" stroke-width="1.0" stroke-dasharray="3,2"/><line x1="294.70" y1="473.97" x2="297.90" y2="473.97" stroke="#c03050" stroke-width="1.0"/><line x1="294.70" y1="506.79" x2="297.90" y2="506.79" stroke="#c03050" stroke-width="1.0"/>
<circle cx="296.30" cy="490.38" r="2.3" fill="#fff" fill-opacity="0" stroke="#c03050" stroke-width="1.0"/>
<line x1="308.85" y1="450.89" x2="308.85" y2="484.71" stroke="#c03050" stroke-width="1.0" stroke-dasharray="3,2"/><line x1="307.25" y1="450.89" x2="310.45" y2="450.89" stroke="#c03050" stroke-width="1.0"/><line x1="307.25" y1="484.71" x2="310.45" y2="484.71" stroke="#c03050" stroke-width="1.0"/>
<circle cx="308.85" cy="467.80" r="2.3" fill="#fff" fill-opacity="0" stroke="#c03050" stroke-width="1.0"/>
<line x1="321.40" y1="445.79" x2="321.40" y2="481.61" stroke="#c03050" stroke-width="1.0" stroke-dasharray="3,2"/><line x1="319.80" y1="445.79" x2="323.00" y2="445.79" stroke="#c03050" stroke-width="1.0"/><line x1="319.80" y1="481.61" x2="323.00" y2="481.61" stroke="#c03050" stroke-width="1.0"/>
<circle cx="321.40" cy="463.70" r="2.3" fill="#fff" fill-opacity="0" stroke="#c03050" stroke-width="1.0"/>
<line x1="333.95" y1="465.52" x2="333.95" y2="505.02" stroke="#c03050" stroke-width="1.0" stroke-dasharray="3,2"/><line x1="332.35" y1="465.52" x2="335.55" y2="465.52" stroke="#c03050" stroke-width="1.0"/><line x1="332.35" y1="505.02" x2="335.55" y2="505.02" stroke="#c03050" stroke-width="1.0"/>
<circle cx="333.95" cy="485.27" r="2.3" fill="#fff" fill-opacity="0" stroke="#c03050" stroke-width="1.0"/>
<line x1="346.50" y1="481.04" x2="346.50" y2="521.64" stroke="#c03050" stroke-width="1.0" stroke-dasharray="3,2"/><line x1="344.90" y1="481.04" x2="348.10" y2="481.04" stroke="#c03050" stroke-width="1.0"/><line x1="344.90" y1="521.64" x2="348.10" y2="521.64" stroke="#c03050" stroke-width="1.0"/>
<circle cx="346.50" cy="501.34" r="2.3" fill="#fff" fill-opacity="0" stroke="#c03050" stroke-width="1.0"/>
<line x1="359.05" y1="474.09" x2="359.05" y2="519.10" stroke="#c03050" stroke-width="1.0" stroke-dasharray="3,2"/><line x1="357.45" y1="474.09" x2="360.65" y2="474.09" stroke="#c03050" stroke-width="1.0"/><line x1="357.45" y1="519.10" x2="360.65" y2="519.10" stroke="#c03050" stroke-width="1.0"/>
<circle cx="359.05" cy="496.59" r="2.3" fill="#fff" fill-opacity="0" stroke="#c03050" stroke-width="1.0"/>
<polyline points="57.85,300.07 70.40,367.80 82.95,354.50 95.50,362.30 108.05,378.00 120.60,390.00 133.15,394.00 145.70,404.00 158.25,406.80 170.80,420.70 183.35,424.70 195.90,412.00 208.45,435.70 221.00,421.00 233.55,431.50 246.10,430.50 258.65,441.70 271.20,424.80 283.75,463.10 296.30,466.80 308.85,452.60 321.40,485.63 333.95,486.73 346.50,495.86 359.05,503.17" fill="none" stroke="#b89050" stroke-width="1.0" stroke-dasharray="1,1"/>
<line x1="57.85" y1="283.07" x2="57.85" y2="317.07" stroke="#b89050" stroke-width="1.0" stroke-dasharray="1,1"/><line x1="56.25" y1="283.07" x2="59.45" y2="283.07" stroke="#b89050" stroke-width="1.0"/><line x1="56.25" y1="317.07" x2="59.45" y2="317.07" stroke="#b89050" stroke-width="1.0"/>
<rect x="55.45" y="297.67" width="4.6" height="4.6" fill="none" stroke="#b89050" stroke-width="1.0"/>
<line x1="70.40" y1="359.80" x2="70.40" y2="375.80" stroke="#b89050" stroke-width="1.0" stroke-dasharray="1,1"/><line x1="68.80" y1="359.80" x2="72.00" y2="359.80" stroke="#b89050" stroke-width="1.0"/><line x1="68.80" y1="375.80" x2="72.00" y2="375.80" stroke="#b89050" stroke-width="1.0"/>
<rect x="68.00" y="365.40" width="4.6" height="4.6" fill="none" stroke="#b89050" stroke-width="1.0"/>
<line x1="82.95" y1="349.50" x2="82.95" y2="359.50" stroke="#b89050" stroke-width="1.0" stroke-dasharray="1,1"/><line x1="81.35" y1="349.50" x2="84.55" y2="349.50" stroke="#b89050" stroke-width="1.0"/><line x1="81.35" y1="359.50" x2="84.55" y2="359.50" stroke="#b89050" stroke-width="1.0"/>
<rect x="80.55" y="352.10" width="4.6" height="4.6" fill="none" stroke="#b89050" stroke-width="1.0"/>
<line x1="95.50" y1="358.30" x2="95.50" y2="366.30" stroke="#b89050" stroke-width="1.0" stroke-dasharray="1,1"/><line x1="93.90" y1="358.30" x2="97.10" y2="358.30" stroke="#b89050" stroke-width="1.0"/><line x1="93.90" y1="366.30" x2="97.10" y2="366.30" stroke="#b89050" stroke-width="1.0"/>
<rect x="93.10" y="359.90" width="4.6" height="4.6" fill="none" stroke="#b89050" stroke-width="1.0"/>
<line x1="108.05" y1="375.00" x2="108.05" y2="381.00" stroke="#b89050" stroke-width="1.0" stroke-dasharray="1,1"/><line x1="106.45" y1="375.00" x2="109.65" y2="375.00" stroke="#b89050" stroke-width="1.0"/><line x1="106.45" y1="381.00" x2="109.65" y2="381.00" stroke="#b89050" stroke-width="1.0"/>
<rect x="105.65" y="375.60" width="4.6" height="4.6" fill="none" stroke="#b89050" stroke-width="1.0"/>
<line x1="120.60" y1="387.50" x2="120.60" y2="392.50" stroke="#b89050" stroke-width="1.0" stroke-dasharray="1,1"/><line x1="119.00" y1="387.50" x2="122.20" y2="387.50" stroke="#b89050" stroke-width="1.0"/><line x1="119.00" y1="392.50" x2="122.20" y2="392.50" stroke="#b89050" stroke-width="1.0"/>
<rect x="118.20" y="387.60" width="4.6" height="4.6" fill="none" stroke="#b89050" stroke-width="1.0"/>
<line x1="133.15" y1="391.50" x2="133.15" y2="396.50" stroke="#b89050" stroke-width="1.0" stroke-dasharray="1,1"/><line x1="131.55" y1="391.50" x2="134.75" y2="391.50" stroke="#b89050" stroke-width="1.0"/><line x1="131.55" y1="396.50" x2="134.75" y2="396.50" stroke="#b89050" stroke-width="1.0"/>
<rect x="130.75" y="391.60" width="4.6" height="4.6" fill="none" stroke="#b89050" stroke-width="1.0"/>
<line x1="145.70" y1="400.97" x2="145.70" y2="407.03" stroke="#b89050" stroke-width="1.0" stroke-dasharray="1,1"/><line x1="144.10" y1="400.97" x2="147.30" y2="400.97" stroke="#b89050" stroke-width="1.0"/><line x1="144.10" y1="407.03" x2="147.30" y2="407.03" stroke="#b89050" stroke-width="1.0"/>
<rect x="143.30" y="401.60" width="4.6" height="4.6" fill="none" stroke="#b89050" stroke-width="1.0"/>
<line x1="158.25" y1="403.24" x2="158.25" y2="410.36" stroke="#b89050" stroke-width="1.0" stroke-dasharray="1,1"/><line x1="156.65" y1="403.24" x2="159.85" y2="403.24" stroke="#b89050" stroke-width="1.0"/><line x1="156.65" y1="410.36" x2="159.85" y2="410.36" stroke="#b89050" stroke-width="1.0"/>
<rect x="155.85" y="404.40" width="4.6" height="4.6" fill="none" stroke="#b89050" stroke-width="1.0"/>
<line x1="170.80" y1="416.54" x2="170.80" y2="424.86" stroke="#b89050" stroke-width="1.0" stroke-dasharray="1,1"/><line x1="169.20" y1="416.54" x2="172.40" y2="416.54" stroke="#b89050" stroke-width="1.0"/><line x1="169.20" y1="424.86" x2="172.40" y2="424.86" stroke="#b89050" stroke-width="1.0"/>
<rect x="168.40" y="418.30" width="4.6" height="4.6" fill="none" stroke="#b89050" stroke-width="1.0"/>
<line x1="183.35" y1="419.99" x2="183.35" y2="429.41" stroke="#b89050" stroke-width="1.0" stroke-dasharray="1,1"/><line x1="181.75" y1="419.99" x2="184.95" y2="419.99" stroke="#b89050" stroke-width="1.0"/><line x1="181.75" y1="429.41" x2="184.95" y2="429.41" stroke="#b89050" stroke-width="1.0"/>
<rect x="180.95" y="422.30" width="4.6" height="4.6" fill="none" stroke="#b89050" stroke-width="1.0"/>
<line x1="195.90" y1="406.88" x2="195.90" y2="417.12" stroke="#b89050" stroke-width="1.0" stroke-dasharray="1,1"/><line x1="194.30" y1="406.88" x2="197.50" y2="406.88" stroke="#b89050" stroke-width="1.0"/><line x1="194.30" y1="417.12" x2="197.50" y2="417.12" stroke="#b89050" stroke-width="1.0"/>
<rect x="193.50" y="409.60" width="4.6" height="4.6" fill="none" stroke="#b89050" stroke-width="1.0"/>
<line x1="208.45" y1="429.30" x2="208.45" y2="442.10" stroke="#b89050" stroke-width="1.0" stroke-dasharray="1,1"/><line x1="206.85" y1="429.30" x2="210.05" y2="429.30" stroke="#b89050" stroke-width="1.0"/><line x1="206.85" y1="442.10" x2="210.05" y2="442.10" stroke="#b89050" stroke-width="1.0"/>
<rect x="206.05" y="433.30" width="4.6" height="4.6" fill="none" stroke="#b89050" stroke-width="1.0"/>
<line x1="221.00" y1="413.71" x2="221.00" y2="428.29" stroke="#b89050" stroke-width="1.0" stroke-dasharray="1,1"/><line x1="219.40" y1="413.71" x2="222.60" y2="413.71" stroke="#b89050" stroke-width="1.0"/><line x1="219.40" y1="428.29" x2="222.60" y2="428.29" stroke="#b89050" stroke-width="1.0"/>
<rect x="218.60" y="418.60" width="4.6" height="4.6" fill="none" stroke="#b89050" stroke-width="1.0"/>
<line x1="233.55" y1="423.02" x2="233.55" y2="439.98" stroke="#b89050" stroke-width="1.0" stroke-dasharray="1,1"/><line x1="231.95" y1="423.02" x2="235.15" y2="423.02" stroke="#b89050" stroke-width="1.0"/><line x1="231.95" y1="439.98" x2="235.15" y2="439.98" stroke="#b89050" stroke-width="1.0"/>
<rect x="231.15" y="429.10" width="4.6" height="4.6" fill="none" stroke="#b89050" stroke-width="1.0"/>
<line x1="246.10" y1="420.98" x2="246.10" y2="440.02" stroke="#b89050" stroke-width="1.0" stroke-dasharray="1,1"/><line x1="244.50" y1="420.98" x2="247.70" y2="420.98" stroke="#b89050" stroke-width="1.0"/><line x1="244.50" y1="440.02" x2="247.70" y2="440.02" stroke="#b89050" stroke-width="1.0"/>
<rect x="243.70" y="428.10" width="4.6" height="4.6" fill="none" stroke="#b89050" stroke-width="1.0"/>
<line x1="258.65" y1="429.84" x2="258.65" y2="453.56" stroke="#b89050" stroke-width="1.0" stroke-dasharray="1,1"/><line x1="257.05" y1="429.84" x2="260.25" y2="429.84" stroke="#b89050" stroke-width="1.0"/><line x1="257.05" y1="453.56" x2="260.25" y2="453.56" stroke="#b89050" stroke-width="1.0"/>
<rect x="256.25" y="439.30" width="4.6" height="4.6" fill="none" stroke="#b89050" stroke-width="1.0"/>
<line x1="271.20" y1="412.23" x2="271.20" y2="437.37" stroke="#b89050" stroke-width="1.0" stroke-dasharray="1,1"/><line x1="269.60" y1="412.23" x2="272.80" y2="412.23" stroke="#b89050" stroke-width="1.0"/><line x1="269.60" y1="437.37" x2="272.80" y2="437.37" stroke="#b89050" stroke-width="1.0"/>
<rect x="268.80" y="422.40" width="4.6" height="4.6" fill="none" stroke="#b89050" stroke-width="1.0"/>
<line x1="283.75" y1="448.56" x2="283.75" y2="477.64" stroke="#b89050" stroke-width="1.0" stroke-dasharray="1,1"/><line x1="282.15" y1="448.56" x2="285.35" y2="448.56" stroke="#b89050" stroke-width="1.0"/><line x1="282.15" y1="477.64" x2="285.35" y2="477.64" stroke="#b89050" stroke-width="1.0"/>
<rect x="281.35" y="460.70" width="4.6" height="4.6" fill="none" stroke="#b89050" stroke-width="1.0"/>
<line x1="296.30" y1="451.04" x2="296.30" y2="482.56" stroke="#b89050" stroke-width="1.0" stroke-dasharray="1,1"/><line x1="294.70" y1="451.04" x2="297.90" y2="451.04" stroke="#b89050" stroke-width="1.0"/><line x1="294.70" y1="482.56" x2="297.90" y2="482.56" stroke="#b89050" stroke-width="1.0"/>
<rect x="293.90" y="464.40" width="4.6" height="4.6" fill="none" stroke="#b89050" stroke-width="1.0"/>
<line x1="308.85" y1="436.12" x2="308.85" y2="469.08" stroke="#b89050" stroke-width="1.0" stroke-dasharray="1,1"/><line x1="307.25" y1="436.12" x2="310.45" y2="436.12" stroke="#b89050" stroke-width="1.0"/><line x1="307.25" y1="469.08" x2="310.45" y2="469.08" stroke="#b89050" stroke-width="1.0"/>
<rect x="306.45" y="450.20" width="4.6" height="4.6" fill="none" stroke="#b89050" stroke-width="1.0"/>
<line x1="321.40" y1="467.03" x2="321.40" y2="504.23" stroke="#b89050" stroke-width="1.0" stroke-dasharray="1,1"/><line x1="319.80" y1="467.03" x2="323.00" y2="467.03" stroke="#b89050" stroke-width="1.0"/><line x1="319.80" y1="504.23" x2="323.00" y2="504.23" stroke="#b89050" stroke-width="1.0"/>
<rect x="319.00" y="483.23" width="4.6" height="4.6" fill="none" stroke="#b89050" stroke-width="1.0"/>
<line x1="333.95" y1="466.93" x2="333.95" y2="506.53" stroke="#b89050" stroke-width="1.0" stroke-dasharray="1,1"/><line x1="332.35" y1="466.93" x2="335.55" y2="466.93" stroke="#b89050" stroke-width="1.0"/><line x1="332.35" y1="506.53" x2="335.55" y2="506.53" stroke="#b89050" stroke-width="1.0"/>
<rect x="331.55" y="484.33" width="4.6" height="4.6" fill="none" stroke="#b89050" stroke-width="1.0"/>
<line x1="346.50" y1="475.75" x2="346.50" y2="515.97" stroke="#b89050" stroke-width="1.0" stroke-dasharray="1,1"/><line x1="344.90" y1="475.75" x2="348.10" y2="475.75" stroke="#b89050" stroke-width="1.0"/><line x1="344.90" y1="515.97" x2="348.10" y2="515.97" stroke="#b89050" stroke-width="1.0"/>
<rect x="344.10" y="493.46" width="4.6" height="4.6" fill="none" stroke="#b89050" stroke-width="1.0"/>
<line x1="359.05" y1="480.41" x2="359.05" y2="525.92" stroke="#b89050" stroke-width="1.0" stroke-dasharray="1,1"/><line x1="357.45" y1="480.41" x2="360.65" y2="480.41" stroke="#b89050" stroke-width="1.0"/><line x1="357.45" y1="525.92" x2="360.65" y2="525.92" stroke="#b89050" stroke-width="1.0"/>
<rect x="356.65" y="500.77" width="4.6" height="4.6" fill="none" stroke="#b89050" stroke-width="1.0"/>
<polyline points="57.85,345.60 70.40,362.30 82.95,365.75 95.50,376.80 108.05,383.00 120.60,389.80 133.15,387.80 145.70,396.60 158.25,410.00 170.80,410.00 183.35,410.00 195.90,413.30 208.45,423.50 221.00,406.00 233.55,387.30 246.10,420.50 258.65,418.30 271.20,441.70 283.75,441.70 296.30,440.50 308.85,470.00 321.40,480.88 333.95,462.60 346.50,498.78 359.05,478.33" fill="none" stroke="#a01020" stroke-width="1.0"/>
<line x1="57.85" y1="328.60" x2="57.85" y2="362.60" stroke="#a01020" stroke-width="1.0"/><line x1="56.25" y1="328.60" x2="59.45" y2="328.60" stroke="#a01020" stroke-width="1.0"/><line x1="56.25" y1="362.60" x2="59.45" y2="362.60" stroke="#a01020" stroke-width="1.0"/>
<path d="M57.85,342.60L60.75,347.60L54.95,347.60Z" fill="none" stroke="#a01020" stroke-width="1.0"/>
<line x1="70.40" y1="354.30" x2="70.40" y2="370.30" stroke="#a01020" stroke-width="1.0"/><line x1="68.80" y1="354.30" x2="72.00" y2="354.30" stroke="#a01020" stroke-width="1.0"/><line x1="68.80" y1="370.30" x2="72.00" y2="370.30" stroke="#a01020" stroke-width="1.0"/>
<path d="M70.40,359.30L73.30,364.30L67.50,364.30Z" fill="none" stroke="#a01020" stroke-width="1.0"/>
<line x1="82.95" y1="360.75" x2="82.95" y2="370.75" stroke="#a01020" stroke-width="1.0"/><line x1="81.35" y1="360.75" x2="84.55" y2="360.75" stroke="#a01020" stroke-width="1.0"/><line x1="81.35" y1="370.75" x2="84.55" y2="370.75" stroke="#a01020" stroke-width="1.0"/>
<path d="M82.95,362.75L85.85,367.75L80.05,367.75Z" fill="none" stroke="#a01020" stroke-width="1.0"/>
<line x1="95.50" y1="372.80" x2="95.50" y2="380.80" stroke="#a01020" stroke-width="1.0"/><line x1="93.90" y1="372.80" x2="97.10" y2="372.80" stroke="#a01020" stroke-width="1.0"/><line x1="93.90" y1="380.80" x2="97.10" y2="380.80" stroke="#a01020" stroke-width="1.0"/>
<path d="M95.50,373.80L98.40,378.80L92.60,378.80Z" fill="none" stroke="#a01020" stroke-width="1.0"/>
<line x1="108.05" y1="380.00" x2="108.05" y2="386.00" stroke="#a01020" stroke-width="1.0"/><line x1="106.45" y1="380.00" x2="109.65" y2="380.00" stroke="#a01020" stroke-width="1.0"/><line x1="106.45" y1="386.00" x2="109.65" y2="386.00" stroke="#a01020" stroke-width="1.0"/>
<path d="M108.05,380.00L110.95,385.00L105.15,385.00Z" fill="none" stroke="#a01020" stroke-width="1.0"/>
<line x1="120.60" y1="387.30" x2="120.60" y2="392.30" stroke="#a01020" stroke-width="1.0"/><line x1="119.00" y1="387.30" x2="122.20" y2="387.30" stroke="#a01020" stroke-width="1.0"/><line x1="119.00" y1="392.30" x2="122.20" y2="392.30" stroke="#a01020" stroke-width="1.0"/>
<path d="M120.60,386.80L123.50,391.80L117.70,391.80Z" fill="none" stroke="#a01020" stroke-width="1.0"/>
<line x1="133.15" y1="385.30" x2="133.15" y2="390.30" stroke="#a01020" stroke-width="1.0"/><line x1="131.55" y1="385.30" x2="134.75" y2="385.30" stroke="#a01020" stroke-width="1.0"/><line x1="131.55" y1="390.30" x2="134.75" y2="390.30" stroke="#a01020" stroke-width="1.0"/>
<path d="M133.15,384.80L136.05,389.80L130.25,389.80Z" fill="none" stroke="#a01020" stroke-width="1.0"/>
<line x1="145.70" y1="393.60" x2="145.70" y2="399.60" stroke="#a01020" stroke-width="1.0"/><line x1="144.10" y1="393.60" x2="147.30" y2="393.60" stroke="#a01020" stroke-width="1.0"/><line x1="144.10" y1="399.60" x2="147.30" y2="399.60" stroke="#a01020" stroke-width="1.0"/>
<path d="M145.70,393.60L148.60,398.60L142.80,398.60Z" fill="none" stroke="#a01020" stroke-width="1.0"/>
<line x1="158.25" y1="406.43" x2="158.25" y2="413.57" stroke="#a01020" stroke-width="1.0"/><line x1="156.65" y1="406.43" x2="159.85" y2="406.43" stroke="#a01020" stroke-width="1.0"/><line x1="156.65" y1="413.57" x2="159.85" y2="413.57" stroke="#a01020" stroke-width="1.0"/>
<path d="M158.25,407.00L161.15,412.00L155.35,412.00Z" fill="none" stroke="#a01020" stroke-width="1.0"/>
<line x1="170.80" y1="405.91" x2="170.80" y2="414.09" stroke="#a01020" stroke-width="1.0"/><line x1="169.20" y1="405.91" x2="172.40" y2="405.91" stroke="#a01020" stroke-width="1.0"/><line x1="169.20" y1="414.09" x2="172.40" y2="414.09" stroke="#a01020" stroke-width="1.0"/>
<path d="M170.80,407.00L173.70,412.00L167.90,412.00Z" fill="none" stroke="#a01020" stroke-width="1.0"/>
<line x1="183.35" y1="405.40" x2="183.35" y2="414.60" stroke="#a01020" stroke-width="1.0"/><line x1="181.75" y1="405.40" x2="184.95" y2="405.40" stroke="#a01020" stroke-width="1.0"/><line x1="181.75" y1="414.60" x2="184.95" y2="414.60" stroke="#a01020" stroke-width="1.0"/>
<path d="M183.35,407.00L186.25,412.00L180.45,412.00Z" fill="none" stroke="#a01020" stroke-width="1.0"/>
<line x1="195.90" y1="408.16" x2="195.90" y2="418.44" stroke="#a01020" stroke-width="1.0"/><line x1="194.30" y1="408.16" x2="197.50" y2="408.16" stroke="#a01020" stroke-width="1.0"/><line x1="194.30" y1="418.44" x2="197.50" y2="418.44" stroke="#a01020" stroke-width="1.0"/>
<path d="M195.90,410.30L198.80,415.30L193.00,415.30Z" fill="none" stroke="#a01020" stroke-width="1.0"/>
<line x1="208.45" y1="417.23" x2="208.45" y2="429.77" stroke="#a01020" stroke-width="1.0"/><line x1="206.85" y1="417.23" x2="210.05" y2="417.23" stroke="#a01020" stroke-width="1.0"/><line x1="206.85" y1="429.77" x2="210.05" y2="429.77" stroke="#a01020" stroke-width="1.0"/>
<path d="M208.45,420.50L211.35,425.50L205.55,425.50Z" fill="none" stroke="#a01020" stroke-width="1.0"/>
<line x1="221.00" y1="398.90" x2="221.00" y2="413.10" stroke="#a01020" stroke-width="1.0"/><line x1="219.40" y1="398.90" x2="222.60" y2="398.90" stroke="#a01020" stroke-width="1.0"/><line x1="219.40" y1="413.10" x2="222.60" y2="413.10" stroke="#a01020" stroke-width="1.0"/>
<path d="M221.00,403.00L223.90,408.00L218.10,408.00Z" fill="none" stroke="#a01020" stroke-width="1.0"/>
<line x1="233.55" y1="379.30" x2="233.55" y2="395.30" stroke="#a01020" stroke-width="1.0"/><line x1="231.95" y1="379.30" x2="235.15" y2="379.30" stroke="#a01020" stroke-width="1.0"/><line x1="231.95" y1="395.30" x2="235.15" y2="395.30" stroke="#a01020" stroke-width="1.0"/>
<path d="M233.55,384.30L236.45,389.30L230.65,389.30Z" fill="none" stroke="#a01020" stroke-width="1.0"/>
<line x1="246.10" y1="411.14" x2="246.10" y2="429.86" stroke="#a01020" stroke-width="1.0"/><line x1="244.50" y1="411.14" x2="247.70" y2="411.14" stroke="#a01020" stroke-width="1.0"/><line x1="244.50" y1="429.86" x2="247.70" y2="429.86" stroke="#a01020" stroke-width="1.0"/>
<path d="M246.10,417.50L249.00,422.50L243.20,422.50Z" fill="none" stroke="#a01020" stroke-width="1.0"/>
<line x1="258.65" y1="406.90" x2="258.65" y2="429.70" stroke="#a01020" stroke-width="1.0"/><line x1="257.05" y1="406.90" x2="260.25" y2="406.90" stroke="#a01020" stroke-width="1.0"/><line x1="257.05" y1="429.70" x2="260.25" y2="429.70" stroke="#a01020" stroke-width="1.0"/>
<path d="M258.65,415.30L261.55,420.30L255.75,420.30Z" fill="none" stroke="#a01020" stroke-width="1.0"/>
<line x1="271.20" y1="428.76" x2="271.20" y2="454.64" stroke="#a01020" stroke-width="1.0"/><line x1="269.60" y1="428.76" x2="272.80" y2="428.76" stroke="#a01020" stroke-width="1.0"/><line x1="269.60" y1="454.64" x2="272.80" y2="454.64" stroke="#a01020" stroke-width="1.0"/>
<path d="M271.20,438.70L274.10,443.70L268.30,443.70Z" fill="none" stroke="#a01020" stroke-width="1.0"/>
<line x1="283.75" y1="427.68" x2="283.75" y2="455.72" stroke="#a01020" stroke-width="1.0"/><line x1="282.15" y1="427.68" x2="285.35" y2="427.68" stroke="#a01020" stroke-width="1.0"/><line x1="282.15" y1="455.72" x2="285.35" y2="455.72" stroke="#a01020" stroke-width="1.0"/>
<path d="M283.75,438.70L286.65,443.70L280.85,443.70Z" fill="none" stroke="#a01020" stroke-width="1.0"/>
<line x1="296.30" y1="425.43" x2="296.30" y2="455.57" stroke="#a01020" stroke-width="1.0"/><line x1="294.70" y1="425.43" x2="297.90" y2="425.43" stroke="#a01020" stroke-width="1.0"/><line x1="294.70" y1="455.57" x2="297.90" y2="455.57" stroke="#a01020" stroke-width="1.0"/>
<path d="M296.30,437.50L299.20,442.50L293.40,442.50Z" fill="none" stroke="#a01020" stroke-width="1.0"/>
<line x1="308.85" y1="453.02" x2="308.85" y2="486.98" stroke="#a01020" stroke-width="1.0"/><line x1="307.25" y1="453.02" x2="310.45" y2="453.02" stroke="#a01020" stroke-width="1.0"/><line x1="307.25" y1="486.98" x2="310.45" y2="486.98" stroke="#a01020" stroke-width="1.0"/>
<path d="M308.85,467.00L311.75,472.00L305.95,472.00Z" fill="none" stroke="#a01020" stroke-width="1.0"/>
<line x1="321.40" y1="462.44" x2="321.40" y2="499.33" stroke="#a01020" stroke-width="1.0"/><line x1="319.80" y1="462.44" x2="323.00" y2="462.44" stroke="#a01020" stroke-width="1.0"/><line x1="319.80" y1="499.33" x2="323.00" y2="499.33" stroke="#a01020" stroke-width="1.0"/>
<path d="M321.40,477.88L324.30,482.88L318.50,482.88Z" fill="none" stroke="#a01020" stroke-width="1.0"/>
<line x1="333.95" y1="443.60" x2="333.95" y2="481.60" stroke="#a01020" stroke-width="1.0"/><line x1="332.35" y1="443.60" x2="335.55" y2="443.60" stroke="#a01020" stroke-width="1.0"/><line x1="332.35" y1="481.60" x2="335.55" y2="481.60" stroke="#a01020" stroke-width="1.0"/>
<path d="M333.95,459.60L336.85,464.60L331.05,464.60Z" fill="none" stroke="#a01020" stroke-width="1.0"/>
<line x1="346.50" y1="478.57" x2="346.50" y2="518.99" stroke="#a01020" stroke-width="1.0"/><line x1="344.90" y1="478.57" x2="348.10" y2="478.57" stroke="#a01020" stroke-width="1.0"/><line x1="344.90" y1="518.99" x2="348.10" y2="518.99" stroke="#a01020" stroke-width="1.0"/>
<path d="M346.50,495.78L349.40,500.78L343.60,500.78Z" fill="none" stroke="#a01020" stroke-width="1.0"/>
<line x1="359.05" y1="456.51" x2="359.05" y2="500.14" stroke="#a01020" stroke-width="1.0"/><line x1="357.45" y1="456.51" x2="360.65" y2="456.51" stroke="#a01020" stroke-width="1.0"/><line x1="357.45" y1="500.14" x2="360.65" y2="500.14" stroke="#a01020" stroke-width="1.0"/>
<path d="M359.05,475.33L361.95,480.33L356.15,480.33Z" fill="none" stroke="#a01020" stroke-width="1.0"/>
<polyline points="57.85,255.51 70.40,330.00 82.95,355.30 95.50,386.50 108.05,404.30 120.60,407.30 133.15,398.90 145.70,399.70 158.25,391.60 170.80,391.60 183.35,379.70 195.90,396.20 208.45,412.80 221.00,406.50 233.55,409.20 246.10,410.00 258.65,430.50 271.20,417.30 283.75,451.90 296.30,443.80 308.85,462.20 321.40,442.80 333.95,439.70 346.50,444.90 359.05,458.00" fill="none" stroke="#ff7f2a" stroke-width="1.0" stroke-dasharray="4,2,1,2"/>
<line x1="57.85" y1="238.51" x2="57.85" y2="272.51" stroke="#ff7f2a" stroke-width="1.0" stroke-dasharray="4,2,1,2"/><line x1="56.25" y1="238.51" x2="59.45" y2="238.51" stroke="#ff7f2a" stroke-width="1.0"/><line x1="56.25" y1="272.51" x2="59.45" y2="272.51" stroke="#ff7f2a" stroke-width="1.0"/>
<rect x="55.55" y="253.31" width="4.6" height="4.4" rx="1.1" fill="#ff7f2a"/>
<line x1="70.40" y1="322.00" x2="70.40" y2="338.00" stroke="#ff7f2a" stroke-width="1.0" stroke-dasharray="4,2,1,2"/><line x1="68.80" y1="322.00" x2="72.00" y2="322.00" stroke="#ff7f2a" stroke-width="1.0"/><line x1="68.80" y1="338.00" x2="72.00" y2="338.00" stroke="#ff7f2a" stroke-width="1.0"/>
<rect x="68.10" y="327.80" width="4.6" height="4.4" rx="1.1" fill="#ff7f2a"/>
<line x1="82.95" y1="350.30" x2="82.95" y2="360.30" stroke="#ff7f2a" stroke-width="1.0" stroke-dasharray="4,2,1,2"/><line x1="81.35" y1="350.30" x2="84.55" y2="350.30" stroke="#ff7f2a" stroke-width="1.0"/><line x1="81.35" y1="360.30" x2="84.55" y2="360.30" stroke="#ff7f2a" stroke-width="1.0"/>
<rect x="80.65" y="353.10" width="4.6" height="4.4" rx="1.1" fill="#ff7f2a"/>
<line x1="95.50" y1="382.50" x2="95.50" y2="390.50" stroke="#ff7f2a" stroke-width="1.0" stroke-dasharray="4,2,1,2"/><line x1="93.90" y1="382.50" x2="97.10" y2="382.50" stroke="#ff7f2a" stroke-width="1.0"/><line x1="93.90" y1="390.50" x2="97.10" y2="390.50" stroke="#ff7f2a" stroke-width="1.0"/>
<rect x="93.20" y="384.30" width="4.6" height="4.4" rx="1.1" fill="#ff7f2a"/>
<line x1="108.05" y1="401.27" x2="108.05" y2="407.33" stroke="#ff7f2a" stroke-width="1.0" stroke-dasharray="4,2,1,2"/><line x1="106.45" y1="401.27" x2="109.65" y2="401.27" stroke="#ff7f2a" stroke-width="1.0"/><line x1="106.45" y1="407.33" x2="109.65" y2="407.33" stroke="#ff7f2a" stroke-width="1.0"/>
<rect x="105.75" y="402.10" width="4.6" height="4.4" rx="1.1" fill="#ff7f2a"/>
<line x1="120.60" y1="404.76" x2="120.60" y2="409.84" stroke="#ff7f2a" stroke-width="1.0" stroke-dasharray="4,2,1,2"/><line x1="119.00" y1="404.76" x2="122.20" y2="404.76" stroke="#ff7f2a" stroke-width="1.0"/><line x1="119.00" y1="409.84" x2="122.20" y2="409.84" stroke="#ff7f2a" stroke-width="1.0"/>
<rect x="118.30" y="405.10" width="4.6" height="4.4" rx="1.1" fill="#ff7f2a"/>
<line x1="133.15" y1="396.39" x2="133.15" y2="401.41" stroke="#ff7f2a" stroke-width="1.0" stroke-dasharray="4,2,1,2"/><line x1="131.55" y1="396.39" x2="134.75" y2="396.39" stroke="#ff7f2a" stroke-width="1.0"/><line x1="131.55" y1="401.41" x2="134.75" y2="401.41" stroke="#ff7f2a" stroke-width="1.0"/>
<rect x="130.85" y="396.70" width="4.6" height="4.4" rx="1.1" fill="#ff7f2a"/>
<line x1="145.70" y1="396.69" x2="145.70" y2="402.71" stroke="#ff7f2a" stroke-width="1.0" stroke-dasharray="4,2,1,2"/><line x1="144.10" y1="396.69" x2="147.30" y2="396.69" stroke="#ff7f2a" stroke-width="1.0"/><line x1="144.10" y1="402.71" x2="147.30" y2="402.71" stroke="#ff7f2a" stroke-width="1.0"/>
<rect x="143.40" y="397.50" width="4.6" height="4.4" rx="1.1" fill="#ff7f2a"/>
<line x1="158.25" y1="388.10" x2="158.25" y2="395.10" stroke="#ff7f2a" stroke-width="1.0" stroke-dasharray="4,2,1,2"/><line x1="156.65" y1="388.10" x2="159.85" y2="388.10" stroke="#ff7f2a" stroke-width="1.0"/><line x1="156.65" y1="395.10" x2="159.85" y2="395.10" stroke="#ff7f2a" stroke-width="1.0"/>
<rect x="155.95" y="389.40" width="4.6" height="4.4" rx="1.1" fill="#ff7f2a"/>
<line x1="170.80" y1="387.60" x2="170.80" y2="395.60" stroke="#ff7f2a" stroke-width="1.0" stroke-dasharray="4,2,1,2"/><line x1="169.20" y1="387.60" x2="172.40" y2="387.60" stroke="#ff7f2a" stroke-width="1.0"/><line x1="169.20" y1="395.60" x2="172.40" y2="395.60" stroke="#ff7f2a" stroke-width="1.0"/>
<rect x="168.50" y="389.40" width="4.6" height="4.4" rx="1.1" fill="#ff7f2a"/>
<line x1="183.35" y1="375.20" x2="183.35" y2="384.20" stroke="#ff7f2a" stroke-width="1.0" stroke-dasharray="4,2,1,2"/><line x1="181.75" y1="375.20" x2="184.95" y2="375.20" stroke="#ff7f2a" stroke-width="1.0"/><line x1="181.75" y1="384.20" x2="184.95" y2="384.20" stroke="#ff7f2a" stroke-width="1.0"/>
<rect x="181.05" y="377.50" width="4.6" height="4.4" rx="1.1" fill="#ff7f2a"/>
<line x1="195.90" y1="391.20" x2="195.90" y2="401.20" stroke="#ff7f2a" stroke-width="1.0" stroke-dasharray="4,2,1,2"/><line x1="194.30" y1="391.20" x2="197.50" y2="391.20" stroke="#ff7f2a" stroke-width="1.0"/><line x1="194.30" y1="401.20" x2="197.50" y2="401.20" stroke="#ff7f2a" stroke-width="1.0"/>
<rect x="193.60" y="394.00" width="4.6" height="4.4" rx="1.1" fill="#ff7f2a"/>
<line x1="208.45" y1="406.64" x2="208.45" y2="418.96" stroke="#ff7f2a" stroke-width="1.0" stroke-dasharray="4,2,1,2"/><line x1="206.85" y1="406.64" x2="210.05" y2="406.64" stroke="#ff7f2a" stroke-width="1.0"/><line x1="206.85" y1="418.96" x2="210.05" y2="418.96" stroke="#ff7f2a" stroke-width="1.0"/>
<rect x="206.15" y="410.60" width="4.6" height="4.4" rx="1.1" fill="#ff7f2a"/>
<line x1="221.00" y1="399.39" x2="221.00" y2="413.61" stroke="#ff7f2a" stroke-width="1.0" stroke-dasharray="4,2,1,2"/><line x1="219.40" y1="399.39" x2="222.60" y2="399.39" stroke="#ff7f2a" stroke-width="1.0"/><line x1="219.40" y1="413.61" x2="222.60" y2="413.61" stroke="#ff7f2a" stroke-width="1.0"/>
<rect x="218.70" y="404.30" width="4.6" height="4.4" rx="1.1" fill="#ff7f2a"/>
<line x1="233.55" y1="401.04" x2="233.55" y2="417.36" stroke="#ff7f2a" stroke-width="1.0" stroke-dasharray="4,2,1,2"/><line x1="231.95" y1="401.04" x2="235.15" y2="401.04" stroke="#ff7f2a" stroke-width="1.0"/><line x1="231.95" y1="417.36" x2="235.15" y2="417.36" stroke="#ff7f2a" stroke-width="1.0"/>
<rect x="231.25" y="407.00" width="4.6" height="4.4" rx="1.1" fill="#ff7f2a"/>
<line x1="246.10" y1="400.81" x2="246.10" y2="419.19" stroke="#ff7f2a" stroke-width="1.0" stroke-dasharray="4,2,1,2"/><line x1="244.50" y1="400.81" x2="247.70" y2="400.81" stroke="#ff7f2a" stroke-width="1.0"/><line x1="244.50" y1="419.19" x2="247.70" y2="419.19" stroke="#ff7f2a" stroke-width="1.0"/>
<rect x="243.80" y="407.80" width="4.6" height="4.4" rx="1.1" fill="#ff7f2a"/>
<line x1="258.65" y1="418.86" x2="258.65" y2="442.14" stroke="#ff7f2a" stroke-width="1.0" stroke-dasharray="4,2,1,2"/><line x1="257.05" y1="418.86" x2="260.25" y2="418.86" stroke="#ff7f2a" stroke-width="1.0"/><line x1="257.05" y1="442.14" x2="260.25" y2="442.14" stroke="#ff7f2a" stroke-width="1.0"/>
<rect x="256.35" y="428.30" width="4.6" height="4.4" rx="1.1" fill="#ff7f2a"/>
<line x1="271.20" y1="404.89" x2="271.20" y2="429.71" stroke="#ff7f2a" stroke-width="1.0" stroke-dasharray="4,2,1,2"/><line x1="269.60" y1="404.89" x2="272.80" y2="404.89" stroke="#ff7f2a" stroke-width="1.0"/><line x1="269.60" y1="429.71" x2="272.80" y2="429.71" stroke="#ff7f2a" stroke-width="1.0"/>
<rect x="268.90" y="415.10" width="4.6" height="4.4" rx="1.1" fill="#ff7f2a"/>
<line x1="283.75" y1="437.64" x2="283.75" y2="466.16" stroke="#ff7f2a" stroke-width="1.0" stroke-dasharray="4,2,1,2"/><line x1="282.15" y1="437.64" x2="285.35" y2="437.64" stroke="#ff7f2a" stroke-width="1.0"/><line x1="282.15" y1="466.16" x2="285.35" y2="466.16" stroke="#ff7f2a" stroke-width="1.0"/>
<rect x="281.45" y="449.70" width="4.6" height="4.4" rx="1.1" fill="#ff7f2a"/>
<line x1="296.30" y1="428.65" x2="296.30" y2="458.95" stroke="#ff7f2a" stroke-width="1.0" stroke-dasharray="4,2,1,2"/><line x1="294.70" y1="428.65" x2="297.90" y2="428.65" stroke="#ff7f2a" stroke-width="1.0"/><line x1="294.70" y1="458.95" x2="297.90" y2="458.95" stroke="#ff7f2a" stroke-width="1.0"/>
<rect x="294.00" y="441.60" width="4.6" height="4.4" rx="1.1" fill="#ff7f2a"/>
<line x1="308.85" y1="445.45" x2="308.85" y2="478.95" stroke="#ff7f2a" stroke-width="1.0" stroke-dasharray="4,2,1,2"/><line x1="307.25" y1="445.45" x2="310.45" y2="445.45" stroke="#ff7f2a" stroke-width="1.0"/><line x1="307.25" y1="478.95" x2="310.45" y2="478.95" stroke="#ff7f2a" stroke-width="1.0"/>
<rect x="306.55" y="460.00" width="4.6" height="4.4" rx="1.1" fill="#ff7f2a"/>
<line x1="321.40" y1="425.51" x2="321.40" y2="460.09" stroke="#ff7f2a" stroke-width="1.0" stroke-dasharray="4,2,1,2"/><line x1="319.80" y1="425.51" x2="323.00" y2="425.51" stroke="#ff7f2a" stroke-width="1.0"/><line x1="319.80" y1="460.09" x2="323.00" y2="460.09" stroke="#ff7f2a" stroke-width="1.0"/>
<rect x="319.10" y="440.60" width="4.6" height="4.4" rx="1.1" fill="#ff7f2a"/>
<line x1="333.95" y1="421.43" x2="333.95" y2="457.97" stroke="#ff7f2a" stroke-width="1.0" stroke-dasharray="4,2,1,2"/><line x1="332.35" y1="421.43" x2="335.55" y2="421.43" stroke="#ff7f2a" stroke-width="1.0"/><line x1="332.35" y1="457.97" x2="335.55" y2="457.97" stroke="#ff7f2a" stroke-width="1.0"/>
<rect x="331.65" y="437.50" width="4.6" height="4.4" rx="1.1" fill="#ff7f2a"/>
<line x1="346.50" y1="426.47" x2="346.50" y2="463.33" stroke="#ff7f2a" stroke-width="1.0" stroke-dasharray="4,2,1,2"/><line x1="344.90" y1="426.47" x2="348.10" y2="426.47" stroke="#ff7f2a" stroke-width="1.0"/><line x1="344.90" y1="463.33" x2="348.10" y2="463.33" stroke="#ff7f2a" stroke-width="1.0"/>
<rect x="344.20" y="442.70" width="4.6" height="4.4" rx="1.1" fill="#ff7f2a"/>
<line x1="359.05" y1="436.93" x2="359.05" y2="479.07" stroke="#ff7f2a" stroke-width="1.0" stroke-dasharray="4,2,1,2"/><line x1="357.45" y1="436.93" x2="360.65" y2="436.93" stroke="#ff7f2a" stroke-width="1.0"/><line x1="357.45" y1="479.07" x2="360.65" y2="479.07" stroke="#ff7f2a" stroke-width="1.0"/>
<rect x="356.75" y="455.80" width="4.6" height="4.4" rx="1.1" fill="#ff7f2a"/>
<polyline points="57.85,297.15 70.40,351.70 82.95,349.00 95.50,367.80 108.05,383.50 120.60,390.80 133.15,393.30 145.70,405.00 158.25,410.50 170.80,412.50 183.35,418.60 195.90,425.00 208.45,423.30 221.00,421.50 233.55,416.00 246.10,427.50 258.65,437.60 271.20,441.70 283.75,441.70 296.30,455.20 308.85,483.08 321.40,451.10 333.95,481.61 346.50,475.00 359.05,468.00" fill="none" stroke="#0000ff" stroke-width="1.0"/>
<line x1="57.85" y1="289.50" x2="57.85" y2="304.80" stroke="#0000ff" stroke-width="1.0"/><line x1="56.25" y1="289.50" x2="59.45" y2="289.50" stroke="#0000ff" stroke-width="1.0"/><line x1="56.25" y1="304.80" x2="59.45" y2="304.80" stroke="#0000ff" stroke-width="1.0"/>
<path d="M57.85,293.95L60.85,299.15L54.85,299.15Z" fill="#0000ff"/>
<line x1="70.40" y1="348.10" x2="70.40" y2="355.30" stroke="#0000ff" stroke-width="1.0"/><line x1="68.80" y1="348.10" x2="72.00" y2="348.10" stroke="#0000ff" stroke-width="1.0"/><line x1="68.80" y1="355.30" x2="72.00" y2="355.30" stroke="#0000ff" stroke-width="1.0"/>
<path d="M70.40,348.50L73.40,353.70L67.40,353.70Z" fill="#0000ff"/>
<line x1="82.95" y1="346.75" x2="82.95" y2="351.25" stroke="#0000ff" stroke-width="1.0"/><line x1="81.35" y1="346.75" x2="84.55" y2="346.75" stroke="#0000ff" stroke-width="1.0"/><line x1="81.35" y1="351.25" x2="84.55" y2="351.25" stroke="#0000ff" stroke-width="1.0"/>
<path d="M82.95,345.80L85.95,351.00L79.95,351.00Z" fill="#0000ff"/>
<line x1="95.50" y1="366.00" x2="95.50" y2="369.60" stroke="#0000ff" stroke-width="1.0"/><line x1="93.90" y1="366.00" x2="97.10" y2="366.00" stroke="#0000ff" stroke-width="1.0"/><line x1="93.90" y1="369.60" x2="97.10" y2="369.60" stroke="#0000ff" stroke-width="1.0"/>
<path d="M95.50,364.60L98.50,369.80L92.50,369.80Z" fill="#0000ff"/>
<path d="M108.05,380.30L111.05,385.50L105.05,385.50Z" fill="#0000ff"/>
<path d="M120.60,387.60L123.60,392.80L117.60,392.80Z" fill="#0000ff"/>
<path d="M133.15,390.10L136.15,395.30L130.15,395.30Z" fill="#0000ff"/>
<path d="M145.70,401.80L148.70,407.00L142.70,407.00Z" fill="#0000ff"/>
<line x1="158.25" y1="408.89" x2="158.25" y2="412.11" stroke="#0000ff" stroke-width="1.0"/><line x1="156.65" y1="408.89" x2="159.85" y2="408.89" stroke="#0000ff" stroke-width="1.0"/><line x1="156.65" y1="412.11" x2="159.85" y2="412.11" stroke="#0000ff" stroke-width="1.0"/>
<path d="M158.25,407.30L161.25,412.50L155.25,412.50Z" fill="#0000ff"/>
<line x1="170.80" y1="410.65" x2="170.80" y2="414.35" stroke="#0000ff" stroke-width="1.0"/><line x1="169.20" y1="410.65" x2="172.40" y2="410.65" stroke="#0000ff" stroke-width="1.0"/><line x1="169.20" y1="414.35" x2="172.40" y2="414.35" stroke="#0000ff" stroke-width="1.0"/>
<path d="M170.80,409.30L173.80,414.50L167.80,414.50Z" fill="#0000ff"/>
<line x1="183.35" y1="416.50" x2="183.35" y2="420.70" stroke="#0000ff" stroke-width="1.0"/><line x1="181.75" y1="416.50" x2="184.95" y2="416.50" stroke="#0000ff" stroke-width="1.0"/><line x1="181.75" y1="420.70" x2="184.95" y2="420.70" stroke="#0000ff" stroke-width="1.0"/>
<path d="M183.35,415.40L186.35,420.60L180.35,420.60Z" fill="#0000ff"/>
<line x1="195.90" y1="422.64" x2="195.90" y2="427.36" stroke="#0000ff" stroke-width="1.0"/><line x1="194.30" y1="422.64" x2="197.50" y2="422.64" stroke="#0000ff" stroke-width="1.0"/><line x1="194.30" y1="427.36" x2="197.50" y2="427.36" stroke="#0000ff" stroke-width="1.0"/>
<path d="M195.90,421.80L198.90,427.00L192.90,427.00Z" fill="#0000ff"/>
<line x1="208.45" y1="420.48" x2="208.45" y2="426.12" stroke="#0000ff" stroke-width="1.0"/><line x1="206.85" y1="420.48" x2="210.05" y2="420.48" stroke="#0000ff" stroke-width="1.0"/><line x1="206.85" y1="426.12" x2="210.05" y2="426.12" stroke="#0000ff" stroke-width="1.0"/>
<path d="M208.45,420.10L211.45,425.30L205.45,425.30Z" fill="#0000ff"/>
<line x1="221.00" y1="418.22" x2="221.00" y2="424.78" stroke="#0000ff" stroke-width="1.0"/><line x1="219.40" y1="418.22" x2="222.60" y2="418.22" stroke="#0000ff" stroke-width="1.0"/><line x1="219.40" y1="424.78" x2="222.60" y2="424.78" stroke="#0000ff" stroke-width="1.0"/>
<path d="M221.00,418.30L224.00,423.50L218.00,423.50Z" fill="#0000ff"/>
<line x1="233.55" y1="412.28" x2="233.55" y2="419.72" stroke="#0000ff" stroke-width="1.0"/><line x1="231.95" y1="412.28" x2="235.15" y2="412.28" stroke="#0000ff" stroke-width="1.0"/><line x1="231.95" y1="419.72" x2="235.15" y2="419.72" stroke="#0000ff" stroke-width="1.0"/>
<path d="M233.55,412.80L236.55,418.00L230.55,418.00Z" fill="#0000ff"/>
<line x1="246.10" y1="423.24" x2="246.10" y2="431.76" stroke="#0000ff" stroke-width="1.0"/><line x1="244.50" y1="423.24" x2="247.70" y2="423.24" stroke="#0000ff" stroke-width="1.0"/><line x1="244.50" y1="431.76" x2="247.70" y2="431.76" stroke="#0000ff" stroke-width="1.0"/>
<path d="M246.10,424.30L249.10,429.50L243.10,429.50Z" fill="#0000ff"/>
<line x1="258.65" y1="432.30" x2="258.65" y2="442.90" stroke="#0000ff" stroke-width="1.0"/><line x1="257.05" y1="432.30" x2="260.25" y2="432.30" stroke="#0000ff" stroke-width="1.0"/><line x1="257.05" y1="442.90" x2="260.25" y2="442.90" stroke="#0000ff" stroke-width="1.0"/>
<path d="M258.65,434.40L261.65,439.60L255.65,439.60Z" fill="#0000ff"/>
<line x1="271.20" y1="435.88" x2="271.20" y2="447.52" stroke="#0000ff" stroke-width="1.0"/><line x1="269.60" y1="435.88" x2="272.80" y2="435.88" stroke="#0000ff" stroke-width="1.0"/><line x1="269.60" y1="447.52" x2="272.80" y2="447.52" stroke="#0000ff" stroke-width="1.0"/>
<path d="M271.20,438.50L274.20,443.70L268.20,443.70Z" fill="#0000ff"/>
<line x1="283.75" y1="435.39" x2="283.75" y2="448.01" stroke="#0000ff" stroke-width="1.0"/><line x1="282.15" y1="435.39" x2="285.35" y2="435.39" stroke="#0000ff" stroke-width="1.0"/><line x1="282.15" y1="448.01" x2="285.35" y2="448.01" stroke="#0000ff" stroke-width="1.0"/>
<path d="M283.75,438.50L286.75,443.70L280.75,443.70Z" fill="#0000ff"/>
<line x1="296.30" y1="448.25" x2="296.30" y2="462.15" stroke="#0000ff" stroke-width="1.0"/><line x1="294.70" y1="448.25" x2="297.90" y2="448.25" stroke="#0000ff" stroke-width="1.0"/><line x1="294.70" y1="462.15" x2="297.90" y2="462.15" stroke="#0000ff" stroke-width="1.0"/>
<path d="M296.30,452.00L299.30,457.20L293.30,457.20Z" fill="#0000ff"/>
<line x1="308.85" y1="475.26" x2="308.85" y2="490.89" stroke="#0000ff" stroke-width="1.0"/><line x1="307.25" y1="475.26" x2="310.45" y2="475.26" stroke="#0000ff" stroke-width="1.0"/><line x1="307.25" y1="490.89" x2="310.45" y2="490.89" stroke="#0000ff" stroke-width="1.0"/>
<path d="M308.85,479.88L311.85,485.08L305.85,485.08Z" fill="#0000ff"/>
<line x1="321.40" y1="443.21" x2="321.40" y2="458.99" stroke="#0000ff" stroke-width="1.0"/><line x1="319.80" y1="443.21" x2="323.00" y2="443.21" stroke="#0000ff" stroke-width="1.0"/><line x1="319.80" y1="458.99" x2="323.00" y2="458.99" stroke="#0000ff" stroke-width="1.0"/>
<path d="M321.40,447.90L324.40,453.10L318.40,453.10Z" fill="#0000ff"/>
<line x1="333.95" y1="472.78" x2="333.95" y2="490.45" stroke="#0000ff" stroke-width="1.0"/><line x1="332.35" y1="472.78" x2="335.55" y2="472.78" stroke="#0000ff" stroke-width="1.0"/><line x1="332.35" y1="490.45" x2="335.55" y2="490.45" stroke="#0000ff" stroke-width="1.0"/>
<path d="M333.95,478.41L336.95,483.61L330.95,483.61Z" fill="#0000ff"/>
<line x1="346.50" y1="466.27" x2="346.50" y2="483.73" stroke="#0000ff" stroke-width="1.0"/><line x1="344.90" y1="466.27" x2="348.10" y2="466.27" stroke="#0000ff" stroke-width="1.0"/><line x1="344.90" y1="483.73" x2="348.10" y2="483.73" stroke="#0000ff" stroke-width="1.0"/>
<path d="M346.50,471.80L349.50,477.00L343.50,477.00Z" fill="#0000ff"/>
<line x1="359.05" y1="458.36" x2="359.05" y2="477.64" stroke="#0000ff" stroke-width="1.0"/><line x1="357.45" y1="458.36" x2="360.65" y2="458.36" stroke="#0000ff" stroke-width="1.0"/><line x1="357.45" y1="477.64" x2="360.65" y2="477.64" stroke="#0000ff" stroke-width="1.0"/>
<path d="M359.05,464.80L362.05,470.00L356.05,470.00Z" fill="#0000ff"/>
</g>
<line x1="45.30" y1="17.50" x2="45.30" y2="21.50" stroke="#000" stroke-width="1.0"/>
<line x1="45.30" y1="317.30" x2="45.30" y2="313.30" stroke="#000" stroke-width="1.0"/>
<line x1="45.30" y1="317.30" x2="45.30" y2="320.30" stroke="#000" stroke-width="1.0"/>
<line x1="45.30" y1="477.80" x2="45.30" y2="474.80" stroke="#000" stroke-width="1.0"/>
<line x1="57.85" y1="17.50" x2="57.85" y2="19.50" stroke="#000" stroke-width="1.0"/>
<line x1="57.85" y1="317.30" x2="57.85" y2="315.30" stroke="#000" stroke-width="1.0"/>
<line x1="57.85" y1="317.30" x2="57.85" y2="318.90" stroke="#000" stroke-width="1.0"/>
<line x1="57.85" y1="477.80" x2="57.85" y2="476.20" stroke="#000" stroke-width="1.0"/>
<line x1="70.40" y1="17.50" x2="70.40" y2="21.50" stroke="#000" stroke-width="1.0"/>
<line x1="70.40" y1="317.30" x2="70.40" y2="313.30" stroke="#000" stroke-width="1.0"/>
<line x1="70.40" y1="317.30" x2="70.40" y2="320.30" stroke="#000" stroke-width="1.0"/>
<line x1="70.40" y1="477.80" x2="70.40" y2="474.80" stroke="#000" stroke-width="1.0"/>
<line x1="82.95" y1="17.50" x2="82.95" y2="19.50" stroke="#000" stroke-width="1.0"/>
<line x1="82.95" y1="317.30" x2="82.95" y2="315.30" stroke="#000" stroke-width="1.0"/>
<line x1="82.95" y1="317.30" x2="82.95" y2="318.90" stroke="#000" stroke-width="1.0"/>
<line x1="82.95" y1="477.80" x2="82.95" y2="476.20" stroke="#000" stroke-width="1.0"/>
<line x1="95.50" y1="17.50" x2="95.50" y2="21.50" stroke="#000" stroke-width="1.0"/>
<line x1="95.50" y1="317.30" x2="95.50" y2="313.30" stroke="#000" stroke-width="1.0"/>
<line x1="95.50" y1="317.30" x2="95.50" y2="320.30" stroke="#000" stroke-width="1.0"/>
<line x1="95.50" y1="477.80" x2="95.50" y2="474.80" stroke="#000" stroke-width="1.0"/>
<line x1="108.05" y1="17.50" x2="108.05" y2="19.50" stroke="#000" stroke-width="1.0"/>
<line x1="108.05" y1="317.30" x2="108.05" y2="315.30" stroke="#000" stroke-width="1.0"/>
<line x1="108.05" y1="317.30" x2="108.05" y2="318.90" stroke="#000" stroke-width="1.0"/>
<line x1="108.05" y1="477.80" x2="108.05" y2="476.20" stroke="#000" stroke-width="1.0"/>
<line x1="120.60" y1="17.50" x2="120.60" y2="26.00" stroke="#000" stroke-width="1.0"/>
<line x1="120.60" y1="317.30" x2="120.60" y2="308.80" stroke="#000" stroke-width="1.0"/>
<line x1="120.60" y1="317.30" x2="120.60" y2="322.10" stroke="#000" stroke-width="1.0"/>
<line x1="120.60" y1="477.80" x2="120.60" y2="473.00" stroke="#000" stroke-width="1.0"/>
<line x1="133.15" y1="17.50" x2="133.15" y2="19.50" stroke="#000" stroke-width="1.0"/>
<line x1="133.15" y1="317.30" x2="133.15" y2="315.30" stroke="#000" stroke-width="1.0"/>
<line x1="133.15" y1="317.30" x2="133.15" y2="318.90" stroke="#000" stroke-width="1.0"/>
<line x1="133.15" y1="477.80" x2="133.15" y2="476.20" stroke="#000" stroke-width="1.0"/>
<line x1="145.70" y1="17.50" x2="145.70" y2="21.50" stroke="#000" stroke-width="1.0"/>
<line x1="145.70" y1="317.30" x2="145.70" y2="313.30" stroke="#000" stroke-width="1.0"/>
<line x1="145.70" y1="317.30" x2="145.70" y2="320.30" stroke="#000" stroke-width="1.0"/>
<line x1="145.70" y1="477.80" x2="145.70" y2="474.80" stroke="#000" stroke-width="1.0"/>
<line x1="158.25" y1="17.50" x2="158.25" y2="19.50" stroke="#000" stroke-width="1.0"/>
<line x1="158.25" y1="317.30" x2="158.25" y2="315.30" stroke="#000" stroke-width="1.0"/>
<line x1="158.25" y1="317.30" x2="158.25" y2="318.90" stroke="#000" stroke-width="1.0"/>
<line x1="158.25" y1="477.80" x2="158.25" y2="476.20" stroke="#000" stroke-width="1.0"/>
<line x1="170.80" y1="17.50" x2="170.80" y2="21.50" stroke="#000" stroke-width="1.0"/>
<line x1="170.80" y1="317.30" x2="170.80" y2="313.30" stroke="#000" stroke-width="1.0"/>
<line x1="170.80" y1="317.30" x2="170.80" y2="320.30" stroke="#000" stroke-width="1.0"/>
<line x1="170.80" y1="477.80" x2="170.80" y2="474.80" stroke="#000" stroke-width="1.0"/>
<line x1="183.35" y1="17.50" x2="183.35" y2="19.50" stroke="#000" stroke-width="1.0"/>
<line x1="183.35" y1="317.30" x2="183.35" y2="315.30" stroke="#000" stroke-width="1.0"/>
<line x1="183.35" y1="317.30" x2="183.35" y2="318.90" stroke="#000" stroke-width="1.0"/>
<line x1="183.35" y1="477.80" x2="183.35" y2="476.20" stroke="#000" stroke-width="1.0"/>
<line x1="195.90" y1="17.50" x2="195.90" y2="21.50" stroke="#000" stroke-width="1.0"/>
<line x1="195.90" y1="317.30" x2="195.90" y2="313.30" stroke="#000" stroke-width="1.0"/>
<line x1="195.90" y1="317.30" x2="195.90" y2="320.30" stroke="#000" stroke-width="1.0"/>
<line x1="195.90" y1="477.80" x2="195.90" y2="474.80" stroke="#000" stroke-width="1.0"/>
<line x1="208.45" y1="17.50" x2="208.45" y2="19.50" stroke="#000" stroke-width="1.0"/>
<line x1="208.45" y1="317.30" x2="208.45" y2="315.30" stroke="#000" stroke-width="1.0"/>
<line x1="208.45" y1="317.30" x2="208.45" y2="318.90" stroke="#000" stroke-width="1.0"/>
<line x1="208.45" y1="477.80" x2="208.45" y2="476.20" stroke="#000" stroke-width="1.0"/>
<line x1="221.00" y1="17.50" x2="221.00" y2="21.50" stroke="#000" stroke-width="1.0"/>
<line x1="221.00" y1="317.30" x2="221.00" y2="313.30" stroke="#000" stroke-width="1.0"/>
<line x1="221.00" y1="317.30" x2="221.00" y2="320.30" stroke="#000" stroke-width="1.0"/>
<line x1="221.00" y1="477.80" x2="221.00" y2="474.80" stroke="#000" stroke-width="1.0"/>
<line x1="233.55" y1="17.50" x2="233.55" y2="19.50" stroke="#000" stroke-width="1.0"/>
<line x1="233.55" y1="317.30" x2="233.55" y2="315.30" stroke="#000" stroke-width="1.0"/>
<line x1="233.55" y1="317.30" x2="233.55" y2="318.90" stroke="#000" stroke-width="1.0"/>
<line x1="233.55" y1="477.80" x2="233.55" y2="476.20" stroke="#000" stroke-width="1.0"/>
<line x1="246.10" y1="17.50" x2="246.10" y2="26.00" stroke="#000" stroke-width="1.0"/>
<line x1="246.10" y1="317.30" x2="246.10" y2="308.80" stroke="#000" stroke-width="1.0"/>
<line x1="246.10" y1="317.30" x2="246.10" y2="322.10" stroke="#000" stroke-width="1.0"/>
<line x1="246.10" y1="477.80" x2="246.10" y2="473.00" stroke="#000" stroke-width="1.0"/>
<line x1="258.65" y1="17.50" x2="258.65" y2="19.50" stroke="#000" stroke-width="1.0"/>
<line x1="258.65" y1="317.30" x2="258.65" y2="315.30" stroke="#000" stroke-width="1.0"/>
<line x1="258.65" y1="317.30" x2="258.65" y2="318.90" stroke="#000" stroke-width="1.0"/>
<line x1="258.65" y1="477.80" x2="258.65" y2="476.20" stroke="#000" stroke-width="1.0"/>
<line x1="271.20" y1="17.50" x2="271.20" y2="21.50" stroke="#000" stroke-width="1.0"/>
<line x1="271.20" y1="317.30" x2="271.20" y2="313.30" stroke="#000" stroke-width="1.0"/>
<line x1="271.20" y1="317.30" x2="271.20" y2="320.30" stroke="#000" stroke-width="1.0"/>
<line x1="271.20" y1="477.80" x2="271.20" y2="474.80" stroke="#000" stroke-width="1.0"/>
<line x1="283.75" y1="17.50" x2="283.75" y2="19.50" stroke="#000" stroke-width="1.0"/>
<line x1="283.75" y1="317.30" x2="283.75" y2="315.30" stroke="#000" stroke-width="1.0"/>
<line x1="283.75" y1="317.30" x2="283.75" y2="318.90" stroke="#000" stroke-width="1.0"/>
<line x1="283.75" y1="477.80" x2="283.75" y2="476.20" stroke="#000" stroke-width="1.0"/>
<line x1="296.30" y1="17.50" x2="296.30" y2="21.50" stroke="#000" stroke-width="1.0"/>
<line x1="296.30" y1="317.30" x2="296.30" y2="313.30" stroke="#000" stroke-width="1.0"/>
<line x1="296.30" y1="317.30" x2="296.30" y2="320.30" stroke="#000" stroke-width="1.0"/>
<line x1="296.30" y1="477.80" x2="296.30" y2="474.80" stroke="#000" stroke-width="1.0"/>
<line x1="308.85" y1="17.50" x2="308.85" y2="19.50" stroke="#000" stroke-width="1.0"/>
<line x1="308.85" y1="317.30" x2="308.85" y2="315.30" stroke="#000" stroke-width="1.0"/>
<line x1="308.85" y1="317.30" x2="308.85" y2="318.90" stroke="#000" stroke-width="1.0"/>
<line x1="308.85" y1="477.80" x2="308.85" y2="476.20" stroke="#000" stroke-width="1.0"/>
<line x1="321.40" y1="17.50" x2="321.40" y2="21.50" stroke="#000" stroke-width="1.0"/>
<line x1="321.40" y1="317.30" x2="321.40" y2="313.30" stroke="#000" stroke-width="1.0"/>
<line x1="321.40" y1="317.30" x2="321.40" y2="320.30" stroke="#000" stroke-width="1.0"/>
<line x1="321.40" y1="477.80" x2="321.40" y2="474.80" stroke="#000" stroke-width="1.0"/>
<line x1="333.95" y1="17.50" x2="333.95" y2="19.50" stroke="#000" stroke-width="1.0"/>
<line x1="333.95" y1="317.30" x2="333.95" y2="315.30" stroke="#000" stroke-width="1.0"/>
<line x1="333.95" y1="317.30" x2="333.95" y2="318.90" stroke="#000" stroke-width="1.0"/>
<line x1="333.95" y1="477.80" x2="333.95" y2="476.20" stroke="#000" stroke-width="1.0"/>
<line x1="346.50" y1="17.50" x2="346.50" y2="21.50" stroke="#000" stroke-width="1.0"/>
<line x1="346.50" y1="317.30" x2="346.50" y2="313.30" stroke="#000" stroke-width="1.0"/>
<line x1="346.50" y1="317.30" x2="346.50" y2="320.30" stroke="#000" stroke-width="1.0"/>
<line x1="346.50" y1="477.80" x2="346.50" y2="474.80" stroke="#000" stroke-width="1.0"/>
<line x1="359.05" y1="17.50" x2="359.05" y2="19.50" stroke="#000" stroke-width="1.0"/>
<line x1="359.05" y1="317.30" x2="359.05" y2="315.30" stroke="#000" stroke-width="1.0"/>
<line x1="359.05" y1="317.30" x2="359.05" y2="318.90" stroke="#000" stroke-width="1.0"/>
<line x1="359.05" y1="477.80" x2="359.05" y2="476.20" stroke="#000" stroke-width="1.0"/>
<line x1="371.60" y1="17.50" x2="371.60" y2="26.00" stroke="#000" stroke-width="1.0"/>
<line x1="371.60" y1="317.30" x2="371.60" y2="308.80" stroke="#000" stroke-width="1.0"/>
<line x1="371.60" y1="317.30" x2="371.60" y2="322.10" stroke="#000" stroke-width="1.0"/>
<line x1="371.60" y1="477.80" x2="371.60" y2="473.00" stroke="#000" stroke-width="1.0"/>
<line x1="45.50" y1="309.75" x2="51.00" y2="309.75" stroke="#000" stroke-width="1.0"/>
<line x1="371.50" y1="309.75" x2="366.00" y2="309.75" stroke="#000" stroke-width="1.0"/>
<line x1="45.50" y1="300.02" x2="51.00" y2="300.02" stroke="#000" stroke-width="1.0"/>
<line x1="371.50" y1="300.02" x2="366.00" y2="300.02" stroke="#000" stroke-width="1.0"/>
<line x1="45.50" y1="293.11" x2="51.00" y2="293.11" stroke="#000" stroke-width="1.0"/>
<line x1="371.50" y1="293.11" x2="366.00" y2="293.11" stroke="#000" stroke-width="1.0"/>
<line x1="45.50" y1="287.75" x2="51.00" y2="287.75" stroke="#000" stroke-width="1.0"/>
<line x1="371.50" y1="287.75" x2="366.00" y2="287.75" stroke="#000" stroke-width="1.0"/>
<line x1="45.50" y1="283.37" x2="51.00" y2="283.37" stroke="#000" stroke-width="1.0"/>
<line x1="371.50" y1="283.37" x2="366.00" y2="283.37" stroke="#000" stroke-width="1.0"/>
<line x1="45.50" y1="279.67" x2="51.00" y2="279.67" stroke="#000" stroke-width="1.0"/>
<line x1="371.50" y1="279.67" x2="366.00" y2="279.67" stroke="#000" stroke-width="1.0"/>
<line x1="45.50" y1="276.46" x2="51.00" y2="276.46" stroke="#000" stroke-width="1.0"/>
<line x1="371.50" y1="276.46" x2="366.00" y2="276.46" stroke="#000" stroke-width="1.0"/>
<line x1="45.50" y1="273.63" x2="51.00" y2="273.63" stroke="#000" stroke-width="1.0"/>
<line x1="371.50" y1="273.63" x2="366.00" y2="273.63" stroke="#000" stroke-width="1.0"/>
<line x1="45.50" y1="271.10" x2="56.50" y2="271.10" stroke="#000" stroke-width="1.0"/>
<line x1="371.50" y1="271.10" x2="360.50" y2="271.10" stroke="#000" stroke-width="1.0"/>
<line x1="45.50" y1="254.45" x2="51.00" y2="254.45" stroke="#000" stroke-width="1.0"/>
<line x1="371.50" y1="254.45" x2="366.00" y2="254.45" stroke="#000" stroke-width="1.0"/>
<line x1="45.50" y1="244.72" x2="51.00" y2="244.72" stroke="#000" stroke-width="1.0"/>
<line x1="371.50" y1="244.72" x2="366.00" y2="244.72" stroke="#000" stroke-width="1.0"/>
<line x1="45.50" y1="237.81" x2="51.00" y2="237.81" stroke="#000" stroke-width="1.0"/>
<line x1="371.50" y1="237.81" x2="366.00" y2="237.81" stroke="#000" stroke-width="1.0"/>
<line x1="45.50" y1="232.45" x2="51.00" y2="232.45" stroke="#000" stroke-width="1.0"/>
<line x1="371.50" y1="232.45" x2="366.00" y2="232.45" stroke="#000" stroke-width="1.0"/>
<line x1="45.50" y1="228.07" x2="51.00" y2="228.07" stroke="#000" stroke-width="1.0"/>
<line x1="371.50" y1="228.07" x2="366.00" y2="228.07" stroke="#000" stroke-width="1.0"/>
<line x1="45.50" y1="224.37" x2="51.00" y2="224.37" stroke="#000" stroke-width="1.0"/>
<line x1="371.50" y1="224.37" x2="366.00" y2="224.37" stroke="#000" stroke-width="1.0"/>
<line x1="45.50" y1="221.16" x2="51.00" y2="221.16" stroke="#000" stroke-width="1.0"/>
<line x1="371.50" y1="221.16" x2="366.00" y2="221.16" stroke="#000" stroke-width="1.0"/>
<line x1="45.50" y1="218.33" x2="51.00" y2="218.33" stroke="#000" stroke-width="1.0"/>
<line x1="371.50" y1="218.33" x2="366.00" y2="218.33" stroke="#000" stroke-width="1.0"/>
<line x1="45.50" y1="215.80" x2="56.50" y2="215.80" stroke="#000" stroke-width="1.0"/>
<line x1="371.50" y1="215.80" x2="360.50" y2="215.80" stroke="#000" stroke-width="1.0"/>
<line x1="45.50" y1="199.15" x2="51.00" y2="199.15" stroke="#000" stroke-width="1.0"/>
<line x1="371.50" y1="199.15" x2="366.00" y2="199.15" stroke="#000" stroke-width="1.0"/>
<line x1="45.50" y1="189.42" x2="51.00" y2="189.42" stroke="#000" stroke-width="1.0"/>
<line x1="371.50" y1="189.42" x2="366.00" y2="189.42" stroke="#000" stroke-width="1.0"/>
<line x1="45.50" y1="182.51" x2="51.00" y2="182.51" stroke="#000" stroke-width="1.0"/>
<line x1="371.50" y1="182.51" x2="366.00" y2="182.51" stroke="#000" stroke-width="1.0"/>
<line x1="45.50" y1="177.15" x2="51.00" y2="177.15" stroke="#000" stroke-width="1.0"/>
<line x1="371.50" y1="177.15" x2="366.00" y2="177.15" stroke="#000" stroke-width="1.0"/>
<line x1="45.50" y1="172.77" x2="51.00" y2="172.77" stroke="#000" stroke-width="1.0"/>
<line x1="371.50" y1="172.77" x2="366.00" y2="172.77" stroke="#000" stroke-width="1.0"/>
<line x1="45.50" y1="169.07" x2="51.00" y2="169.07" stroke="#000" stroke-width="1.0"/>
<line x1="371.50" y1="169.07" x2="366.00" y2="169.07" stroke="#000" stroke-width="1.0"/>
<line x1="45.50" y1="165.86" x2="51.00" y2="165.86" stroke="#000" stroke-width="1.0"/>
<line x1="371.50" y1="165.86" x2="366.00" y2="165.86" stroke="#000" stroke-width="1.0"/>
<line x1="45.50" y1="163.03" x2="51.00" y2="163.03" stroke="#000" stroke-width="1.0"/>
<line x1="371.50" y1="163.03" x2="366.00" y2="163.03" stroke="#000" stroke-width="1.0"/>
<line x1="45.50" y1="160.50" x2="56.50" y2="160.50" stroke="#000" stroke-width="1.0"/>
<line x1="371.50" y1="160.50" x2="360.50" y2="160.50" stroke="#000" stroke-width="1.0"/>
<line x1="45.50" y1="143.85" x2="51.00" y2="143.85" stroke="#000" stroke-width="1.0"/>
<line x1="371.50" y1="143.85" x2="366.00" y2="143.85" stroke="#000" stroke-width="1.0"/>
<line x1="45.50" y1="134.12" x2="51.00" y2="134.12" stroke="#000" stroke-width="1.0"/>
<line x1="371.50" y1="134.12" x2="366.00" y2="134.12" stroke="#000" stroke-width="1.0"/>
<line x1="45.50" y1="127.21" x2="51.00" y2="127.21" stroke="#000" stroke-width="1.0"/>
<line x1="371.50" y1="127.21" x2="366.00" y2="127.21" stroke="#000" stroke-width="1.0"/>
<line x1="45.50" y1="121.85" x2="51.00" y2="121.85" stroke="#000" stroke-width="1.0"/>
<line x1="371.50" y1="121.85" x2="366.00" y2="121.85" stroke="#000" stroke-width="1.0"/>
<line x1="45.50" y1="117.47" x2="51.00" y2="117.47" stroke="#000" stroke-width="1.0"/>
<line x1="371.50" y1="117.47" x2="366.00" y2="117.47" stroke="#000" stroke-width="1.0"/>
<line x1="45.50" y1="113.77" x2="51.00" y2="113.77" stroke="#000" stroke-width="1.0"/>
<line x1="371.50" y1="113.77" x2="366.00" y2="113.77" stroke="#000" stroke-width="1.0"/>
<line x1="45.50" y1="110.56" x2="51.00" y2="110.56" stroke="#000" stroke-width="1.0"/>
<line x1="371.50" y1="110.56" x2="366.00" y2="110.56" stroke="#000" stroke-width="1.0"/>
<line x1="45.50" y1="107.73" x2="51.00" y2="107.73" stroke="#000" stroke-width="1.0"/>
<line x1="371.50" y1="107.73" x2="366.00" y2="107.73" stroke="#000" stroke-width="1.0"/>
<line x1="45.50" y1="105.20" x2="56.50" y2="105.20" stroke="#000" stroke-width="1.0"/>
<line x1="371.50" y1="105.20" x2="360.50" y2="105.20" stroke="#000" stroke-width="1.0"/>
<line x1="45.50" y1="88.55" x2="51.00" y2="88.55" stroke="#000" stroke-width="1.0"/>
<line x1="371.50" y1="88.55" x2="366.00" y2="88.55" stroke="#000" stroke-width="1.0"/>
<line x1="45.50" y1="78.82" x2="51.00" y2="78.82" stroke="#000" stroke-width="1.0"/>
<line x1="371.50" y1="78.82" x2="366.00" y2="78.82" stroke="#000" stroke-width="1.0"/>
<line x1="45.50" y1="71.91" x2="51.00" y2="71.91" stroke="#000" stroke-width="1.0"/>
<line x1="371.50" y1="71.91" x2="366.00" y2="71.91" stroke="#000" stroke-width="1.0"/>
<line x1="45.50" y1="66.55" x2="51.00" y2="66.55" stroke="#000" stroke-width="1.0"/>
<line x1="371.50" y1="66.55" x2="366.00" y2="66.55" stroke="#000" stroke-width="1.0"/>
<line x1="45.50" y1="62.17" x2="51.00" y2="62.17" stroke="#000" stroke-width="1.0"/>
<line x1="371.50" y1="62.17" x2="366.00" y2="62.17" stroke="#000" stroke-width="1.0"/>
<line x1="45.50" y1="58.47" x2="51.00" y2="58.47" stroke="#000" stroke-width="1.0"/>
<line x1="371.50" y1="58.47" x2="366.00" y2="58.47" stroke="#000" stroke-width="1.0"/>
<line x1="45.50" y1="55.26" x2="51.00" y2="55.26" stroke="#000" stroke-width="1.0"/>
<line x1="371.50" y1="55.26" x2="366.00" y2="55.26" stroke="#000" stroke-width="1.0"/>
<line x1="45.50" y1="52.43" x2="51.00" y2="52.43" stroke="#000" stroke-width="1.0"/>
<line x1="371.50" y1="52.43" x2="366.00" y2="52.43" stroke="#000" stroke-width="1.0"/>
<line x1="45.50" y1="49.90" x2="56.50" y2="49.90" stroke="#000" stroke-width="1.0"/>
<line x1="371.50" y1="49.90" x2="360.50" y2="49.90" stroke="#000" stroke-width="1.0"/>
<line x1="45.50" y1="33.25" x2="51.00" y2="33.25" stroke="#000" stroke-width="1.0"/>
<line x1="371.50" y1="33.25" x2="366.00" y2="33.25" stroke="#000" stroke-width="1.0"/>
<line x1="45.50" y1="23.52" x2="51.00" y2="23.52" stroke="#000" stroke-width="1.0"/>
<line x1="371.50" y1="23.52" x2="366.00" y2="23.52" stroke="#000" stroke-width="1.0"/>
<line x1="45.50" y1="477.98" x2="50.00" y2="477.98" stroke="#000" stroke-width="1.0"/>
<line x1="371.50" y1="477.98" x2="367.00" y2="477.98" stroke="#000" stroke-width="1.0"/>
<line x1="45.50" y1="458.41" x2="52.50" y2="458.41" stroke="#000" stroke-width="1.0"/>
<line x1="371.50" y1="458.41" x2="364.50" y2="458.41" stroke="#000" stroke-width="1.0"/>
<line x1="45.50" y1="442.41" x2="50.00" y2="442.41" stroke="#000" stroke-width="1.0"/>
<line x1="371.50" y1="442.41" x2="367.00" y2="442.41" stroke="#000" stroke-width="1.0"/>
<line x1="45.50" y1="428.89" x2="50.00" y2="428.89" stroke="#000" stroke-width="1.0"/>
<line x1="371.50" y1="428.89" x2="367.00" y2="428.89" stroke="#000" stroke-width="1.0"/>
<line x1="45.50" y1="417.18" x2="50.00" y2="417.18" stroke="#000" stroke-width="1.0"/>
<line x1="371.50" y1="417.18" x2="367.00" y2="417.18" stroke="#000" stroke-width="1.0"/>
<line x1="45.50" y1="406.84" x2="50.00" y2="406.84" stroke="#000" stroke-width="1.0"/>
<line x1="371.50" y1="406.84" x2="367.00" y2="406.84" stroke="#000" stroke-width="1.0"/>
<line x1="45.50" y1="397.60" x2="52.50" y2="397.60" stroke="#000" stroke-width="1.0"/>
<line x1="371.50" y1="397.60" x2="364.50" y2="397.60" stroke="#000" stroke-width="1.0"/>
<line x1="45.50" y1="389.24" x2="50.00" y2="389.24" stroke="#000" stroke-width="1.0"/>
<line x1="371.50" y1="389.24" x2="367.00" y2="389.24" stroke="#000" stroke-width="1.0"/>
<line x1="45.50" y1="381.61" x2="50.00" y2="381.61" stroke="#000" stroke-width="1.0"/>
<line x1="371.50" y1="381.61" x2="367.00" y2="381.61" stroke="#000" stroke-width="1.0"/>
<line x1="45.50" y1="374.58" x2="50.00" y2="374.58" stroke="#000" stroke-width="1.0"/>
<line x1="371.50" y1="374.58" x2="367.00" y2="374.58" stroke="#000" stroke-width="1.0"/>
<line x1="45.50" y1="368.08" x2="50.00" y2="368.08" stroke="#000" stroke-width="1.0"/>
<line x1="371.50" y1="368.08" x2="367.00" y2="368.08" stroke="#000" stroke-width="1.0"/>
<line x1="45.50" y1="362.03" x2="50.00" y2="362.03" stroke="#000" stroke-width="1.0"/>
<line x1="371.50" y1="362.03" x2="367.00" y2="362.03" stroke="#000" stroke-width="1.0"/>
<line x1="45.50" y1="356.37" x2="50.00" y2="356.37" stroke="#000" stroke-width="1.0"/>
<line x1="371.50" y1="356.37" x2="367.00" y2="356.37" stroke="#000" stroke-width="1.0"/>
<line x1="45.50" y1="351.05" x2="50.00" y2="351.05" stroke="#000" stroke-width="1.0"/>
<line x1="371.50" y1="351.05" x2="367.00" y2="351.05" stroke="#000" stroke-width="1.0"/>
<line x1="45.50" y1="346.03" x2="50.00" y2="346.03" stroke="#000" stroke-width="1.0"/>
<line x1="371.50" y1="346.03" x2="367.00" y2="346.03" stroke="#000" stroke-width="1.0"/>
<line x1="45.50" y1="341.29" x2="50.00" y2="341.29" stroke="#000" stroke-width="1.0"/>
<line x1="371.50" y1="341.29" x2="367.00" y2="341.29" stroke="#000" stroke-width="1.0"/>
<line x1="45.50" y1="336.79" x2="52.50" y2="336.79" stroke="#000" stroke-width="1.0"/>
<line x1="371.50" y1="336.79" x2="364.50" y2="336.79" stroke="#000" stroke-width="1.0"/>
<line x1="45.50" y1="332.51" x2="50.00" y2="332.51" stroke="#000" stroke-width="1.0"/>
<line x1="371.50" y1="332.51" x2="367.00" y2="332.51" stroke="#000" stroke-width="1.0"/>
<line x1="45.50" y1="328.43" x2="50.00" y2="328.43" stroke="#000" stroke-width="1.0"/>
<line x1="371.50" y1="328.43" x2="367.00" y2="328.43" stroke="#000" stroke-width="1.0"/>
<line x1="45.50" y1="324.53" x2="50.00" y2="324.53" stroke="#000" stroke-width="1.0"/>
<line x1="371.50" y1="324.53" x2="367.00" y2="324.53" stroke="#000" stroke-width="1.0"/>
<line x1="45.50" y1="320.80" x2="50.00" y2="320.80" stroke="#000" stroke-width="1.0"/>
<line x1="371.50" y1="320.80" x2="367.00" y2="320.80" stroke="#000" stroke-width="1.0"/>
<line x1="45.50" y1="317.22" x2="50.00" y2="317.22" stroke="#000" stroke-width="1.0"/>
<line x1="371.50" y1="317.22" x2="367.00" y2="317.22" stroke="#000" stroke-width="1.0"/>
<rect x="45.5" y="17.5" width="326.0" height="460.3" fill="none" stroke="#000" stroke-width="1.2"/>
<line x1="45.50" y1="317.30" x2="371.50" y2="317.30" stroke="#000" stroke-width="1.2"/>
<text x="51.0" y="14.2" font-size="12.3" fill="#000" text-anchor="start" >13000 GeV pp</text>
<text x="366" y="14.2" font-size="12" fill="#000" text-anchor="end" >Z+Jet</text>
<text x="76.3" y="41.7" font-size="12" fill="#000" text-anchor="start" >Transverse region, 60 &lt; p<tspan font-size="8.4" dx="-1.2" dy="6.6">T</tspan><tspan font-size="8.4" dx="-4.9" dy="-12.1">Z</tspan><tspan dx="-0.6" dy="5.5"> &lt; 80 [GeV], high thrust</tspan></text>
<text x="39.8" y="54.5" font-size="11" fill="#000" text-anchor="end" >10</text>
<text x="39.8" y="109.8" font-size="11" fill="#000" text-anchor="end" >1</text>
<text x="40.3" y="166.0" font-size="11" text-anchor="end">10<tspan font-size="7.5" dy="-4">−1</tspan></text>
<text x="40.3" y="221.3" font-size="11" text-anchor="end">10<tspan font-size="7.5" dy="-4">−2</tspan></text>
<text x="40.3" y="276.6" font-size="11" text-anchor="end">10<tspan font-size="7.5" dy="-4">−3</tspan></text>
<text x="38.6" y="340.9" font-size="11.4" fill="#000" text-anchor="end" >2</text>
<text x="373.3" y="340.9" font-size="11.4" fill="#000" text-anchor="start" >2</text>
<text x="38.6" y="401.7" font-size="11.4" fill="#000" text-anchor="end" >1</text>
<text x="373.3" y="401.7" font-size="11.4" fill="#000" text-anchor="start" >1</text>
<text x="38.6" y="462.5" font-size="11.4" fill="#000" text-anchor="end" >0.5</text>
<text x="373.3" y="462.5" font-size="11.4" fill="#000" text-anchor="start" >0.5</text>
<text x="120.6" y="489.3" font-size="10.8" fill="#000" text-anchor="middle" >1</text>
<text x="246.1" y="489.3" font-size="10.8" fill="#000" text-anchor="middle" >2</text>
<text x="371.3" y="489.6" font-size="10.8" fill="#000" text-anchor="middle" >3</text>
<text x="369.5" y="501.2" font-size="12.2" fill="#000" text-anchor="end" >Mean p<tspan font-size="8.5" dy="4.8">T</tspan><tspan dy="-4.8">/dη dφ</tspan></text>
<text transform="translate(15.0,167.0) rotate(-90) scale(0.89,1)" font-size="12.8">1/N<tspan font-size="9" dy="4">ev</tspan><tspan dy="-4"> dN</tspan><tspan font-size="9" dy="4">ev</tspan><tspan dy="-4">/d mean p</tspan><tspan font-size="9" dy="4.5">T</tspan><tspan dy="-4.5"> [GeV]</tspan><tspan font-size="8.5" dy="-5.5">-1</tspan></text>
<text transform="translate(18.5,427.3) rotate(-90)" font-size="9.2">Ratio to ATLAS</text>
<text transform="translate(380.3,127.5) rotate(-90)" font-size="9.4" fill="#888">Rivet 4.1.0, ≥ 400k events</text>
<text transform="translate(380.5,314.2) rotate(-90)" font-size="9.6" fill="#888">mcplots.cern.ch [arXiv:2401.10621]</text>
<text x="207.8" y="301.6" font-size="7.9" fill="#999" text-anchor="middle" >(ATLAS_2019_I1736531)</text>
<rect x="74" y="208.6" width="5.2" height="5.2" fill="#000"/>
<text x="94.0" y="214.4" font-size="9.35" fill="#000" text-anchor="start" >ATLAS</text>
<line x1="64" y1="224.1" x2="88.5" y2="224.1" stroke="#c03050" stroke-width="1.0" stroke-dasharray="3,2"/>
<circle cx="76.60" cy="224.15" r="2.3" fill="#fff" fill-opacity="0" stroke="#c03050" stroke-width="1.0"/>
<text x="94.0" y="227.3" font-size="9.35" fill="#000" text-anchor="start" >Pythia 6.427 345</text>
<line x1="64" y1="237.1" x2="88.5" y2="237.1" stroke="#b89050" stroke-width="1.0" stroke-dasharray="1,1"/>
<rect x="74.20" y="234.70" width="4.6" height="4.6" fill="none" stroke="#b89050" stroke-width="1.0"/>
<text x="94.0" y="240.3" font-size="9.35" fill="#000" text-anchor="start" >Pythia 6.427 346</text>
<line x1="64" y1="250.0" x2="88.5" y2="250.0" stroke="#a01020" stroke-width="1.0"/>
<path d="M76.60,247.05L79.50,252.05L73.70,252.05Z" fill="none" stroke="#a01020" stroke-width="1.0"/>
<text x="94.0" y="253.2" font-size="9.35" fill="#000" text-anchor="start" >Pythia 6.427 370</text>
<line x1="64" y1="263.0" x2="88.5" y2="263.0" stroke="#ff7f2a" stroke-width="1.0" stroke-dasharray="4,2,1,2"/>
<rect x="74.30" y="260.80" width="4.6" height="4.4" rx="1.1" fill="#ff7f2a"/>
<text x="94.0" y="266.2" font-size="9.35" fill="#000" text-anchor="start" >Pythia 6.427 default</text>
<line x1="64" y1="275.9" x2="88.5" y2="275.9" stroke="#0000ff" stroke-width="1.0"/>
<path d="M76.60,272.75L79.60,277.95L73.60,277.95Z" fill="#0000ff"/>
<text x="94.0" y="279.1" font-size="9.35" fill="#000" text-anchor="start" >Pythia 8.315 default</text>
</svg></body></html>
